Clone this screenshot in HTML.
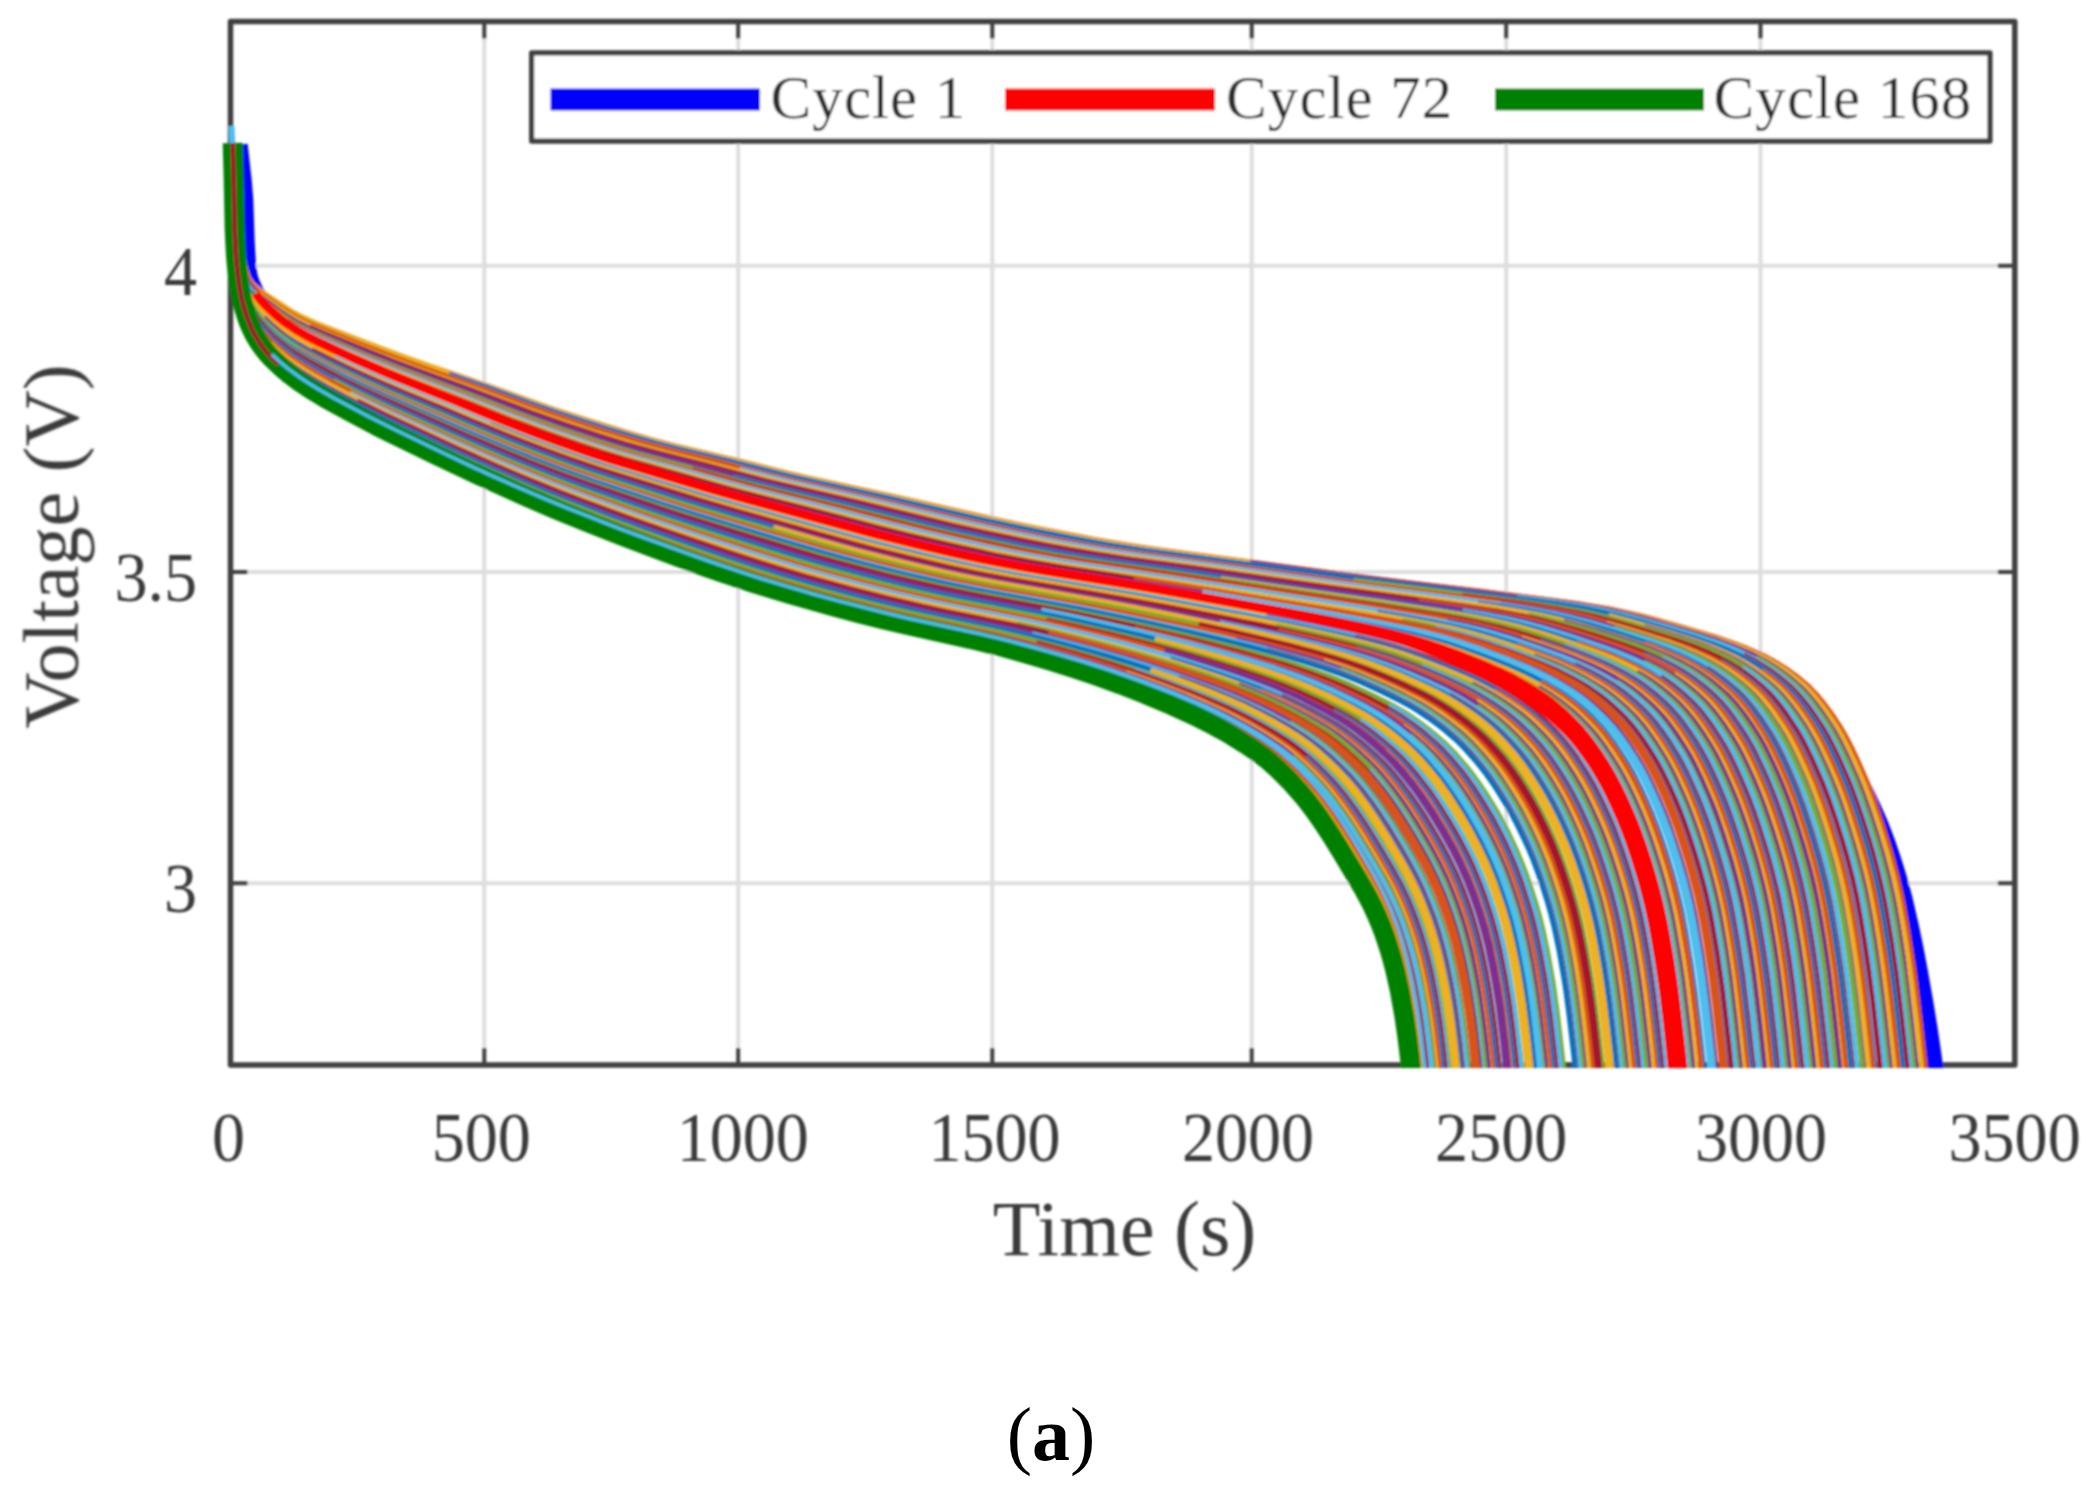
<!DOCTYPE html>
<html lang="en"><head><meta charset="utf-8"><title>Discharge voltage curves</title>
<style>html,body{margin:0;padding:0;background:#fff}svg{display:block}text{font-family:"Liberation Serif","Times New Roman",serif}</style></head><body>
<svg width="2096" height="1494" viewBox="0 0 2096 1494">
<defs><filter id="soft" x="0" y="0" width="2096" height="1494" filterUnits="userSpaceOnUse"><feGaussianBlur stdDeviation="1.1"/></filter><clipPath id="plot"><rect x="220.5" y="21.5" width="1794.3" height="1046.5"/></clipPath></defs>
<rect width="2096" height="1494" fill="#fff"/>
<g filter="url(#soft)">
<path d="M484.3,21.5V1065.0M738.2,21.5V1065.0M992.3,21.5V1065.0M1251.7,21.5V1065.0M1506.2,21.5V1065.0M1760.5,21.5V1065.0M230.5,265.8H2014.8M230.5,572.1H2014.8M230.5,883.2H2014.8" stroke="#dedede" stroke-width="4" fill="none"/>
<rect x="230.5" y="21.5" width="1784.3" height="1043.5" fill="none" stroke="#3f3f3f" stroke-width="5.5" stroke-linejoin="round"/>
<path d="M484.3,1065.0v-17.0M484.3,21.5v17.0M738.2,1065.0v-17.0M738.2,21.5v17.0M992.3,1065.0v-17.0M992.3,21.5v17.0M1251.7,1065.0v-17.0M1251.7,21.5v17.0M1506.2,1065.0v-17.0M1506.2,21.5v17.0M1760.5,1065.0v-17.0M1760.5,21.5v17.0M230.5,265.8h17.0M2014.8,265.8h-17.0M230.5,572.1h17.0M2014.8,572.1h-17.0M230.5,883.2h17.0M2014.8,883.2h-17.0" stroke="#3f3f3f" stroke-width="4" fill="none"/>
<g clip-path="url(#plot)" fill="none" stroke-width="5" stroke-linejoin="round">

<path d="M231.5,126L232.5,150" stroke="#4DBEEE" stroke-width="6"/>
<path d="M237.7,144.8L241.9,182.4L243.3,200L244.7,241.3L246.1,267L247.5,275.4L248.9,280.8L250.3,284.4L253.1,290.5L254.5,293.1L255.9,295.4L258.7,299.2L262.9,303.9L268.5,309.4L274.1,314.2L281.1,319.5L288.1,324.1L295.1,328.3L304.9,333.6L313.3,337.9L328.5,344.9L340.9,350.1L353.4,355L415.5,377.7L427.9,382L477.6,398.8L527.3,416.1L552.2,424.5L601.9,440.2L626.8,447.6L651.6,454.7L676.5,461.3L701.3,467.5L763.5,482.2L838,498.8L937.5,520.2L987.2,530.5L1024.4,537.6L1074.2,546.8L1148.7,559.8L1186,565.9L1223.3,571.8L1260.6,577.2L1310.3,583.9L1360,590L1455.3,601.4L1554.8,613.7L1581.3,617.2L1607.9,621.4L1627.8,625.3L1647.7,629.8L1674.2,636.6L1700.7,644.1L1720.6,650.3L1733.9,655L1747.2,660.4L1753.8,663.4L1760.4,666.8L1767.1,670.5L1773.7,674.8L1780.3,679.5L1787,684.6L1793.6,690L1800.2,696L1806.9,702.8L1813.5,710.5L1821.8,721.1L1830.1,732.6L1834.3,738.9L1840.5,749.1L1846.7,760.2L1855,775.8L1865.4,796.1L1871.6,809.2L1877.9,823.5L1882,834L1886.2,845.1L1890.3,857.2L1894.5,870.2L1898.6,884.3L1902.8,899.9L1909,927L1913.2,947.1L1917.3,968.5L1923.5,1003.5L1927.7,1029.4L1931.9,1058L1933.9,1073.8L1936,1091.8" stroke="#0000ff" stroke-width="20"/>
<path d="M233.5,143L234.9,164.6L237.7,200.3L241.9,244.6L243.2,257.3L244.6,265.1L246,270.8L247.4,275.3L248.8,278.7L250.2,281.1L251.6,283L253,284.6L255.8,287.2L260,290.6L264.1,293.6L290.6,310.8L296.2,314L301.7,316.9L315.7,323.2L328,328.1L377.5,347.1L402.3,356.3L427,365L488.8,386.2L550.7,408.4L587.8,420.5L624.9,432L649.6,439.2L674.4,445.7L736.2,460.3L785.7,472.6L810.4,478.4L897,497.1L995.9,519.6L1033,527.4L1070.1,534.8L1094.9,539.5L1132,545.8L1156.7,549.5L1379.3,578.9L1416.4,583.5L1482.5,591.3L1555.1,600.4L1581.5,604.1L1607.9,608.5L1627.7,612.6L1640.9,615.8L1654.1,619.2L1680.5,626.6L1713.5,636.4L1733.3,643.1L1746.5,648.2L1759.7,653.9L1766.3,657.1L1772.9,660.7L1779.5,664.6L1786.1,668.8L1792.8,673.5L1799.4,678.6L1806,684.1L1810.1,687.9L1816.3,694.4L1822.5,701.8L1828.7,709.9L1834.9,718.8L1841.1,728.4L1845.2,735.5L1851.4,747.4L1857.6,760.4L1863.8,774.4L1868,784.4L1874.2,800.8L1882.4,825.3L1890.7,852.4L1896.9,876L1901,894.4L1903.1,904.7L1907.2,927.9L1913.4,967.8L1915.5,983.3L1919.6,1017.2L1927.9,1090.1" stroke="#D95319"/>
<path d="M233.5,143L234.9,164.6L237.7,200.3L241.8,244.7L243.2,257.3L244.6,265.1L246,270.8L247.4,275.4L248.8,278.8L250.2,281.1L251.6,283L252.9,284.6L255.7,287.2L259.9,290.6L264.1,293.7L290.5,310.8L296,314.1L301.6,316.9L315.5,323.2L327.8,328.2L377.2,347.2L401.9,356.4L426.5,365L488.2,386.2L549.9,408.4L587,420.6L624,432.1L648.7,439.2L673.3,445.7L735,460.3L784.4,472.6L809.1,478.4L895.5,497.1L994.2,519.7L1031.2,527.4L1068.2,534.9L1092.9,539.5L1129.9,545.9L1154.6,549.6L1376.7,578.9L1413.8,583.6L1479.6,591.4L1552.1,600.5L1578.4,604.2L1604.8,608.6L1624.5,612.7L1637.7,615.8L1650.9,619.3L1677.2,626.7L1710.2,636.5L1729.9,643.2L1743.1,648.2L1756.3,654L1762.9,657.2L1769.4,660.7L1776,664.6L1782.6,668.9L1789.2,673.6L1795.8,678.7L1802.4,684.2L1806.5,688L1812.7,694.5L1818.9,701.9L1825.1,710L1831.2,718.9L1837.4,728.5L1841.5,735.6L1847.7,747.5L1853.9,760.5L1860.1,774.5L1864.2,784.4L1870.4,800.9L1878.7,825.4L1886.9,852.4L1893.1,876L1897.2,894.4L1899.3,904.8L1903.4,927.9L1909.6,967.8L1911.7,983.3L1915.8,1017.2L1924,1090.1" stroke="#EDB120"/>
<path d="M1250.3,562.6L1336.4,574.2L1385.6,580.6L1475.9,591.5L1554.7,601.5L1574.4,604.3L1587.5,606.4L1600.6,608.7L1613.8,611.3L1626.9,614.3L1640,617.6L1653.2,621.2L1672.9,626.8L1705.7,636.7L1718.8,641L1732,645.8L1745.1,651.2L1751.7,654.1L1758.2,657.4L1764.8,660.9L1771.4,664.8L1777.9,669.1L1784.5,673.7L1791.1,678.8L1797.6,684.4L1803.8,690.2L1807.9,694.7L1814.1,702L1820.3,710.2L1826.4,719.1L1832.6,728.6L1836.7,735.8L1840.8,743.5L1847,756.2L1857.3,779.5L1861.4,789.9L1865.5,801L1869.6,812.9L1875.8,832L1881.9,852.5L1888.1,876.1L1892.2,894.5L1894.3,904.9L1898.4,928L1902.5,953.8L1906.6,983.3L1910.7,1017.2L1918.9,1090.1" stroke="#7E2F8E"/>
<path d="M1755.8,657.6L1762.4,661.1L1768.9,665L1775.5,669.3L1782,674L1788.6,679.1L1795.1,684.6L1801.3,690.5L1807.5,697.2L1813.6,704.9L1819.8,713.3L1828,725.5L1832.1,732.3L1836.2,739.8L1842.3,752.1L1848.5,765.4L1854.7,779.7L1860.8,795.5L1869,819.3L1875.2,838.7L1879.3,852.7L1885.4,876.2L1889.6,894.6L1891.6,905L1895.7,928L1901.9,967.9L1903.9,983.4L1908,1017.3L1916.2,1090.2" stroke="#77AC30"/>
<path d="M1516.9,597.5L1549.6,601.8L1575.8,605.6L1595.4,609L1615,613.2L1628.1,616.3L1641.2,619.8L1667.4,627.2L1700.1,637.1L1719.7,643.7L1732.8,648.8L1739.3,651.6L1752.4,657.8L1759,661.4L1765.5,665.3L1772,669.5L1778.6,674.2L1785.1,679.3L1793.7,686.7L1799.9,692.9L1804,697.5L1808.1,702.5L1812.2,707.9L1818.3,716.5L1824.4,725.8L1828.5,732.6L1832.6,740L1836.7,748.1L1844.9,765.7L1853.1,785L1857.2,795.7L1861.3,807.2L1865.4,819.5L1871.5,838.9L1877.7,860.3L1881.8,876.4L1883.8,885.2L1887.9,905.1L1892,928.1L1896.1,954L1898.2,968L1902.3,1000L1912.5,1090.2" stroke="#4DBEEE"/>
<path d="M1743.4,654.9L1750,658.1L1756.5,661.6L1763,665.6L1769.6,669.8L1776.1,674.5L1782.6,679.6L1791.2,687L1797.3,693.2L1803.5,700.3L1809.6,708.2L1815.7,716.8L1821.9,726.1L1828,736.5L1834.1,748.3L1840.3,761.4L1848.5,780.2L1852.5,790.5L1856.6,801.6L1862.8,819.7L1868.9,839.1L1873,853L1879.1,876.5L1883.2,894.9L1885.3,905.2L1887.3,916.4L1891.4,940.8L1895.5,968.1L1897.5,983.5L1901.6,1017.3L1909.8,1090.2" stroke="#A2142F"/>
<path d="M448.8,374L485.4,386.7L534.2,404.6L558.7,413L583.1,421.1L607.5,428.8L631.9,436.2L656.3,443.1L680.7,449.3L729.5,460.9L790.5,476.1L815,481.7L888.2,497.7L985.8,520.3L1034.6,530.5L1071.3,537.8L1107.9,544.5L1144.5,550.2L1364.2,579.6L1400.8,584.3L1465.9,592.1L1531.1,600.4L1557.1,604.1L1583.2,608.3L1602.7,612.2L1622.3,616.8L1641.8,622L1674.4,631.6L1693.9,637.6L1713.5,644.3L1726.5,649.4L1739.5,655.2L1746.1,658.4L1752.6,662L1759.1,665.9L1765.6,670.2L1772.1,674.8L1778.6,679.9L1787.2,687.3L1793.3,693.5L1799.4,700.6L1805.5,708.5L1811.7,717.1L1817.8,726.4L1823.9,736.8L1830,748.6L1836.1,761.6L1844.3,780.4L1848.4,790.7L1852.4,801.9L1858.6,819.9L1864.7,839.3L1868.8,853.2L1874.9,876.7L1879,895L1881,905.4L1883,916.5L1887.1,941L1891.2,968.2L1893.2,983.6L1897.3,1017.4L1905.5,1090.2" stroke="#0072BD"/>
<path d="M1761.6,670.5L1768.1,675.2L1774.6,680.3L1783.1,687.7L1789.2,693.9L1795.3,701L1801.4,708.9L1807.5,717.5L1813.6,726.7L1817.7,733.5L1823.8,744.9L1827.8,753.2L1833.9,766.5L1840,780.7L1844.1,791L1848.2,802.1L1852.2,814L1858.3,833L1862.4,846.4L1868.5,868.6L1872.6,885.7L1874.6,895.2L1878.7,916.7L1884.8,954.3L1888.9,983.7L1892.9,1017.4L1901.1,1090.2" stroke="#D95319"/>
<path d="M1608.6,615.7L1628,620.8L1647.5,626.3L1673.4,634.1L1692.9,640.3L1705.8,644.9L1718.8,650L1731.7,655.8L1738.2,659.1L1744.7,662.6L1751.2,666.6L1757.7,670.9L1764.1,675.6L1770.6,680.7L1777.1,686.2L1781.2,690L1787.2,696.5L1795.4,706.5L1803.5,717.9L1811.6,730.4L1817.7,741.3L1825.8,757.9L1833.9,776.2L1840,791.3L1844.1,802.4L1848.1,814.2L1856.2,839.8L1862.3,861.1L1866.4,877.1L1870.4,895.4L1874.5,916.8L1878.5,941.2L1882.6,968.4L1884.6,983.7L1888.7,1017.5L1896.8,1090.2" stroke="#EDB120"/>
<path d="M1644,626.6L1682.8,638.5L1695.7,642.9L1708.6,647.7L1721.6,653.2L1728,656.2L1734.5,659.5L1741,663L1747.4,667L1753.9,671.3L1760.4,676L1766.8,681.1L1775.3,688.5L1781.4,694.7L1789.5,704.3L1797.6,715.3L1805.7,727.5L1811.7,737.9L1817.8,749.7L1825.9,767.2L1834,786.4L1840.1,802.7L1846.1,820.7L1854.2,846.9L1860.3,869.1L1864.4,886.1L1866.4,895.6L1870.4,917L1874.5,941.3L1878.5,968.5L1880.5,983.8L1884.6,1017.5L1892.7,1090.2" stroke="#7E2F8E"/>
<path d="M1353.7,580.4L1390,585.1L1461,593.9L1519.1,601.5L1538.4,604.2L1557.8,607.2L1577.2,610.6L1590.1,613.3L1609.4,618L1635.3,625.1L1674,636.8L1693.3,643.3L1706.3,648.1L1712.7,650.8L1725.6,656.6L1732.1,659.8L1738.5,663.4L1745,667.4L1751.4,671.7L1757.9,676.4L1764.3,681.5L1772.8,688.9L1776.9,692.9L1782.9,699.7L1787,704.7L1793,712.9L1799.1,721.7L1805.2,731.2L1809.2,738.3L1813.2,746L1817.3,754.3L1823.3,767.6L1829.4,781.7L1833.4,792L1837.5,803L1841.5,814.8L1847.6,833.8L1851.6,847.1L1857.7,869.3L1861.7,886.3L1865.8,906.1L1867.8,917.2L1871.8,941.5L1875.9,968.6L1879.9,1000.3L1890,1090.2" stroke="#77AC30"/>
<path d="M1742.3,667.8L1748.7,672.1L1755.2,676.8L1761.6,681.9L1768.1,687.5L1772.1,691.3L1778.2,697.8L1784.2,705.2L1790.3,713.3L1796.3,722.1L1802.4,731.7L1806.4,738.7L1810.4,746.4L1816.5,759L1826.6,782.1L1830.6,792.3L1836.6,809.2L1840.7,821.3L1846.7,840.6L1852.8,861.8L1858.8,886.6L1860.8,896L1864.9,917.4L1870.9,954.8L1875,984L1879,1017.6L1887.1,1090.2" stroke="#4DBEEE"/>
<path d="M1462,595.3L1513.4,602.1L1532.7,604.8L1558.4,608.9L1577.7,612.6L1597,617L1616.2,622.1L1641.9,629.6L1674.1,639.6L1693.4,646.4L1706.2,651.6L1719.1,657.4L1725.5,660.7L1731.9,664.3L1738.3,668.2L1744.8,672.5L1751.2,677.3L1757.6,682.4L1764,688L1768.1,691.8L1772.1,696L1776.1,700.6L1780.1,705.6L1786.2,713.8L1796.2,728.8L1800.3,735.6L1804.3,743L1812.3,759.4L1822.4,782.5L1828.4,798.1L1836.5,821.7L1842.5,840.9L1846.5,854.7L1852.6,878.1L1856.6,896.2L1860.6,917.6L1864.6,941.8L1868.6,968.8L1872.7,1000.5L1878.7,1053.2L1882.7,1090.2" stroke="#A2142F"/>
<path d="M1720.6,661.1L1727,664.7L1733.4,668.7L1739.8,673L1746.2,677.7L1752.7,682.9L1759.1,688.4L1765.1,694.3L1771.1,701.1L1777.1,708.7L1783.1,717.1L1791.1,729.3L1795.2,736L1799.2,743.4L1805.2,755.6L1811.2,768.8L1817.2,782.9L1823.2,798.5L1831.2,822L1837.3,841.2L1841.3,855L1847.3,878.3L1851.3,896.5L1853.3,906.7L1855.3,917.8L1859.3,942L1863.3,969L1865.3,984.2L1871.3,1035.4L1877.4,1090.2" stroke="#0072BD"/>
<path d="M233.4,143L236.1,185.2L237.5,201.9L241.5,245.8L242.9,258.3L244.2,266L245.6,271.7L246.9,276.2L248.3,279.6L249.6,282.1L252.3,285.6L257.7,290.7L260.4,292.9L264.5,295.9L282,308L290.1,313.2L299.6,318.6L313.1,324.9L325,329.9L361,344.2L397,358.2L420.9,366.9L480.9,388.1L540.8,410.2L576.7,422.4L612.7,433.9L636.7,441L648.7,444.4L672.6,450.6L720.6,462.3L768.5,474.6L792.5,480.4L876.4,499.2L972.3,521.8L1020.2,532.1L1056.2,539.4L1080.2,543.9L1104.1,548.1L1140.1,553.5L1212,563.2L1355.8,583L1443.8,594.2L1507.8,602.7L1527,605.5L1546.1,608.5L1558.9,610.8L1571.7,613.3L1590.9,617.7L1610.1,622.9L1635.7,630.4L1667.7,640.4L1686.9,647.3L1699.7,652.5L1712.5,658.3L1718.9,661.6L1725.3,665.2L1731.7,669.2L1738.1,673.5L1744.5,678.2L1750.9,683.4L1757.3,688.9L1761.3,692.8L1767.3,699.3L1773.3,706.6L1779.3,714.7L1785.3,723.6L1791.3,733.1L1795.3,740.1L1801.3,751.8L1807.3,764.7L1813.3,778.5L1817.4,788.3L1823.4,804.5L1831.4,828.6L1839.4,855.3L1845.4,878.6L1849.4,896.7L1851.4,907L1857.4,942.1L1861.4,969.1L1863.4,984.3L1869.4,1035.4L1875.4,1090.2" stroke="#D95319"/>
<path d="M1606.5,623.3L1625.6,628.9L1657.5,638.8L1670.3,643L1683,647.7L1695.8,652.9L1708.6,658.8L1714.9,662.1L1721.3,665.7L1727.7,669.7L1734.1,674L1740.5,678.7L1746.8,683.9L1755.2,691.3L1761.2,697.5L1767.2,704.6L1775.2,715.3L1783.2,727.1L1789.2,737L1795.2,748.3L1803.2,765.2L1811.2,783.7L1817.1,799.3L1823.1,816.6L1831.1,841.9L1837.1,863L1841.1,878.9L1845.1,897L1849.1,918.2L1853.1,942.3L1857.1,969.2L1859.1,984.4L1863.1,1017.9L1871.1,1090.2" stroke="#EDB120"/>
<path d="M1500.5,603.4L1526,607.2L1545.1,610.3L1564.1,614L1583.2,618.5L1608.7,625.5L1646.8,637.2L1665.9,643.5L1678.6,648.2L1685,650.7L1697.7,656.2L1710.4,662.6L1716.8,666.2L1723.2,670.2L1729.5,674.5L1735.9,679.3L1742.3,684.4L1750.6,691.9L1754.6,695.9L1758.6,700.3L1766.5,710.3L1770.5,715.8L1776.5,724.6L1780.5,730.8L1784.5,737.5L1788.4,744.9L1792.4,752.8L1796.4,761.2L1802.4,774.7L1806.4,784.2L1810.4,794.3L1816.3,811.1L1820.3,823.1L1826.3,842.3L1832.3,863.3L1838.2,887.8L1842.2,907.4L1846.2,930.1L1850.2,955.5L1852.2,969.4L1856.2,1000.8L1862.1,1053.3L1866.1,1090.3" stroke="#7E2F8E"/>
<path d="M1613.9,627.8L1652,639.6L1664.7,643.9L1677.4,648.6L1690.2,653.9L1702.9,659.8L1709.2,663.1L1715.6,666.7L1721.9,670.7L1728.3,675.1L1734.7,679.8L1741,685L1749.4,692.4L1755.3,698.6L1763.3,708.2L1771.2,719.2L1779.2,731.3L1785.2,741.7L1791.1,753.3L1799.1,770.6L1807.1,789.6L1813,805.7L1819,823.5L1827,849.3L1832.9,871.3L1836.9,888.1L1838.9,897.5L1842.9,918.7L1846.9,942.7L1850.8,969.5L1852.8,984.7L1856.8,1018L1864.8,1090.3" stroke="#77AC30"/>
<path d="M739.6,469.4L763.3,475.5L787.1,481.4L870.2,500.2L965.1,522.8L1000.7,530.6L1036.3,538L1060.1,542.7L1083.8,547L1107.6,551L1143.2,556.2L1202.5,564.2L1345,584.2L1432.1,595.5L1495.4,604.1L1527.1,608.9L1552.5,613.5L1571.5,617.8L1590.5,622.7L1615.8,630.1L1647.5,640.1L1666.5,646.7L1679.2,651.7L1691.8,657.2L1704.5,663.6L1710.9,667.3L1717.2,671.2L1723.5,675.6L1729.9,680.3L1736.2,685.5L1742.5,691.1L1748.5,697L1754.4,703.8L1760.4,711.4L1766.3,719.8L1774.3,731.9L1778.2,738.6L1782.2,745.9L1788.2,758L1794.1,771.1L1800.1,785.1L1806,800.6L1813.9,823.9L1819.9,843L1823.9,856.6L1829.8,879.8L1833.8,897.8L1835.8,908L1841.7,942.9L1845.7,969.7L1847.7,984.8L1853.6,1035.6L1859.6,1090.3" stroke="#4DBEEE"/>
<path d="M1706.7,667.8L1713,671.8L1719.3,676.2L1725.6,680.9L1731.9,686.1L1738.3,691.7L1742.2,695.5L1748.1,702L1754.1,709.4L1760,717.5L1765.9,726.3L1771.9,735.7L1775.8,742.7L1781.8,754.4L1787.7,767.1L1793.6,780.8L1797.6,790.5L1803.5,806.6L1811.4,830.5L1819.3,857L1825.3,880.1L1829.2,898.1L1831.2,908.2L1837.1,943.1L1841.1,969.8L1843.1,984.9L1849,1035.6L1854.9,1090.3" stroke="#A2142F"/>
<path d="M1477.8,603.1L1503.1,606.8L1528.3,610.8L1547.2,614.4L1566.2,618.6L1578.8,621.9L1591.4,625.4L1616.7,633L1648.2,643.2L1667.2,650.1L1679.8,655.4L1686.1,658.3L1698.7,664.7L1705,668.4L1711.3,672.4L1717.6,676.7L1724,681.5L1730.3,686.7L1738.6,694.1L1744.5,700.4L1752.4,710L1756.3,715.3L1762.3,723.9L1768.2,733L1772.1,739.7L1776.1,747L1780,754.9L1787.9,772.1L1795.8,791L1799.8,801.5L1803.7,812.7L1807.7,824.7L1813.6,843.7L1819.6,864.6L1825.5,889L1829.4,908.5L1833.4,931L1837.3,956.2L1839.3,970L1843.3,1001.2L1849.2,1053.4L1853.1,1090.3" stroke="#0072BD"/>
<path d="M1644.3,643.7L1656.9,648.2L1669.5,653.2L1682,658.8L1694.6,665.3L1700.9,668.9L1707.2,672.9L1713.5,677.3L1719.8,682.1L1726.1,687.3L1734.4,694.8L1740.3,701L1746.2,708L1754.1,718.7L1761.9,730.5L1767.9,740.3L1773.8,751.5L1779.7,763.8L1785.6,777.2L1791.5,791.5L1797.4,807.5L1803.3,825.1L1809.2,844.1L1815.1,865L1819.1,880.7L1823,898.7L1825,908.8L1828.9,931.2L1834.8,970.1L1836.8,985.2L1840.8,1018.3L1848.6,1090.3" stroke="#D95319"/>
<path d="M257.2,291.8L259.9,294.1L263.8,297.2L283.7,311.3L293,317.2L300.9,321.5L311.5,326.5L323.2,331.5L358.5,346L382,355.4L417.3,368.6L476.1,389.8L523.1,407.6L534.9,411.9L558.4,420.1L593.7,431.8L617.2,439.2L640.7,446.1L664.2,452.4L711.2,464.2L770,479.5L793.5,485.1L864.1,501.3L946.4,521.2L981.6,529.1L1016.9,536.7L1040.4,541.5L1063.9,546L1099.2,552.1L1134.5,557.4L1205,567L1334.4,585.4L1420.6,596.9L1483.4,605.7L1514.8,610.6L1539.9,615.3L1558.7,619.5L1577.5,624.5L1596.3,630.1L1627.7,640L1646.5,646.4L1659.1,651.2L1671.6,656.5L1684.2,662.5L1690.5,665.8L1696.7,669.5L1703,673.5L1709.3,677.9L1715.6,682.7L1721.8,687.9L1730.1,695.4L1736,701.6L1741.9,708.7L1747.8,716.5L1753.7,725.1L1759.6,734.2L1765.4,744.5L1771.3,756L1777.2,768.7L1785.1,787.1L1789,797.1L1793,808L1798.8,825.6L1804.7,844.5L1808.7,858.1L1814.6,881.1L1818.5,899L1820.5,909.1L1826.3,943.7L1830.3,970.3L1832.2,985.3L1838.1,1035.8L1844,1090.3" stroke="#EDB120"/>
<path d="M1563.6,621.6L1582.4,626.8L1601.2,632.5L1626.3,640.5L1645.1,646.9L1657.6,651.7L1670.2,657.1L1682.7,663.1L1689,666.4L1695.3,670.1L1701.5,674.1L1707.8,678.5L1714.1,683.3L1720.3,688.5L1726.6,694.1L1730.5,698L1736.4,704.5L1744.3,714.5L1752.1,725.7L1760,738.1L1765.9,748.8L1773.7,765L1781.6,782.9L1787.4,797.6L1791.4,808.4L1795.3,820L1803.1,844.9L1809,865.7L1813,881.4L1816.9,899.3L1820.8,920.2L1824.7,943.9L1828.7,970.5L1830.6,985.5L1834.5,1018.4L1842.4,1090.3" stroke="#7E2F8E"/>
<path d="M1528.5,614.9L1547.2,619L1566,623.8L1591,631L1616,639L1634.8,645.2L1653.5,652.3L1666,657.6L1678.5,663.7L1684.8,667L1691,670.7L1697.3,674.7L1703.5,679.1L1709.8,683.9L1716,689.1L1722.3,694.8L1728.1,700.7L1736,709.9L1741.8,717.8L1749.7,729.3L1753.6,735.5L1757.5,742.1L1761.4,749.4L1765.3,757.2L1773.2,774.3L1781,793L1786.8,808.9L1794.7,832.6L1800.5,852L1806.4,873.7L1810.3,890.3L1814.2,909.6L1818.2,932L1822.1,957L1824,970.6L1827.9,1001.6L1833.8,1053.5L1837.7,1090.3" stroke="#77AC30"/>
<path d="M1662.2,658.2L1674.7,664.3L1680.9,667.6L1687.2,671.3L1693.4,675.4L1699.6,679.8L1705.9,684.6L1712.1,689.8L1718.3,695.4L1722.2,699.3L1728.1,705.8L1734,713.1L1739.8,721.2L1747.6,733L1753.5,742.7L1759.3,753.8L1765.2,766.1L1771,779.4L1776.9,793.6L1780.8,804L1786.7,820.9L1792.5,839.4L1796.4,852.4L1800.3,866.5L1804.2,882.1L1808.1,899.9L1810.1,909.9L1815.9,944.4L1819.8,970.8L1821.8,985.7L1827.6,1035.9L1833.5,1090.4" stroke="#4DBEEE"/>
<path d="M309.5,326.8L322.4,332.5L357.4,346.9L392.4,360.9L415.7,369.6L474,390.8L532.2,412.9L567.2,425L602.2,436.6L625.5,443.8L637.1,447.1L660.5,453.4L707.1,465.2L765.4,480.6L788.7,486.3L858.6,502.5L951.8,525.1L986.8,532.9L1021.8,540.3L1045.1,545L1068.4,549.3L1091.7,553.3L1126.7,558.6L1196.6,568.3L1324.8,586.8L1410.3,598.4L1466.3,606.5L1497.4,611.3L1522.3,615.9L1534.8,618.5L1553.4,623.1L1572.1,628.3L1597,636L1621.9,644.2L1634.3,648.6L1646.7,653.4L1653,656L1665.4,661.7L1677.8,668.2L1684.1,671.9L1690.3,676L1696.5,680.4L1702.7,685.2L1709,690.4L1715.2,696.1L1721,702L1726.9,708.8L1732.7,716.4L1740.5,727.6L1746.3,736.7L1752.2,746.9L1756.1,754.5L1761.9,766.7L1767.8,779.9L1773.6,794.1L1777.5,804.5L1783.3,821.4L1789.2,839.8L1793.1,852.8L1797,866.9L1800.9,882.5L1804.8,900.2L1806.7,910.2L1812.5,944.6L1816.4,971L1818.4,985.9L1824.2,1036L1830.1,1090.4" stroke="#A2142F"/>
<path d="M1644,654L1656.4,659.4L1662.6,662.3L1675,668.9L1681.3,672.6L1687.5,676.6L1693.7,681.1L1699.9,685.9L1706.1,691.1L1712.3,696.8L1716.2,700.6L1722,707.1L1729.8,717.1L1737.6,728.3L1745.3,740.6L1749.2,747.6L1755.1,759.1L1760.9,771.6L1766.7,785.1L1770.6,794.6L1776.4,810.5L1782.3,827.9L1788.1,846.6L1792,860.1L1795.9,874.8L1799.8,891.4L1801.7,900.6L1803.7,910.5L1807.5,932.7L1813.4,971.2L1815.3,986L1819.2,1018.7L1827,1090.4" stroke="#0072BD"/>
<path d="M1418.3,601L1461.7,607.4L1486.5,611.2L1511.3,615.6L1529.8,619.5L1548.4,624.1L1567,629.3L1591.8,637.1L1622.8,647.4L1641.4,654.6L1653.8,660L1666.2,666.1L1672.4,669.5L1678.6,673.2L1684.8,677.3L1691,681.7L1697.2,686.6L1703.4,691.8L1711.5,699.3L1715.4,703.4L1719.3,707.8L1723.2,712.6L1729,720.5L1734.8,729L1740.6,738.1L1744.5,744.7L1748.4,751.9L1756.1,767.9L1765.8,790.3L1769.7,800.3L1773.6,811L1781.4,834.5L1789.1,860.5L1795,883.2L1798.8,900.9L1802.7,921.6L1808.5,957.8L1810.5,971.3L1814.4,1002.1L1820.2,1053.6L1824.1,1090.4" stroke="#D95319"/>
<path d="M1674.6,673.9L1680.8,678L1687,682.4L1693.2,687.2L1699.4,692.5L1705.5,698.1L1709.4,702L1715.2,708.5L1721,715.9L1726.8,723.9L1732.6,732.6L1738.4,742L1742.3,748.9L1748.1,760.3L1753.9,772.8L1759.7,786.2L1763.6,795.8L1769.4,811.5L1773.3,822.9L1779.1,841.2L1782.9,854.1L1786.8,868.1L1792.6,892.1L1794.6,901.2L1798.4,921.9L1804.2,958L1808.1,986.3L1813.9,1036.1L1819.7,1090.4" stroke="#EDB120"/>
<path d="M233.3,143L235.9,188.3L237.2,205.3L241.1,248.2L242.4,260.3L243.7,267.9L245,273.5L246.3,278L247.7,281.5L249,284L251.6,287.7L254.2,290.5L258.1,294.4L262,297.7L265.9,300.7L278.9,310.3L286.7,315.7L291.9,318.9L297.1,321.9L310.1,328.4L321.7,333.5L356.3,348L391,361.9L414.1,370.7L471.9,391.9L529.7,413.9L564.3,426.1L599,437.6L622.1,444.8L645.2,451.4L703,466.4L760.8,481.8L783.9,487.4L853.2,503.7L945.7,526.4L991.9,536.6L1026.6,543.9L1061.2,550.6L1084.4,554.6L1119,559.9L1188.4,569.6L1315.5,588.2L1412.6,601.9L1474.3,611.2L1492.8,614.3L1511.3,617.8L1529.8,621.9L1542.1,625.1L1554.5,628.6L1579.1,636.2L1610,646.4L1628.5,653.3L1640.8,658.4L1653.2,664.2L1665.5,670.8L1671.7,674.5L1677.8,678.6L1684,683.1L1690.2,687.9L1696.3,693.2L1702.5,698.8L1708.3,704.8L1714.1,711.6L1719.9,719.2L1725.7,727.5L1733.4,739.4L1737.3,746L1741.1,753.2L1746.9,765L1752.7,777.8L1758.5,791.5L1764.3,806.6L1772,829.3L1777.8,848L1781.7,861.4L1787.5,884L1791.3,901.6L1793.3,911.5L1799,945.6L1802.9,971.7L1804.8,986.5L1810.6,1036.2L1816.4,1090.4" stroke="#7E2F8E"/>
<path d="M1643.5,661.9L1655.8,668L1662,671.5L1668.2,675.2L1674.3,679.3L1680.5,683.8L1686.6,688.6L1692.8,693.9L1698.9,699.6L1702.8,703.4L1708.5,710L1714.3,717.3L1720.1,725.3L1727.8,737.1L1733.6,746.7L1739.4,757.7L1745.1,769.8L1750.9,782.9L1756.7,796.9L1760.6,807.2L1766.3,823.9L1772.1,842.1L1776,855L1779.8,868.9L1783.7,884.4L1787.5,901.9L1789.4,911.8L1795.2,945.8L1799.1,971.9L1801,986.6L1806.8,1036.2L1812.6,1090.4" stroke="#77AC30"/>
<path d="M1462.5,611.1L1487.1,615.3L1505.5,618.8L1523.9,623L1542.4,627.9L1566.9,635.3L1597.6,645.5L1616,652.1L1628.3,657L1634.5,659.7L1646.7,665.5L1659,672.1L1665.2,675.9L1671.3,680L1677.4,684.5L1683.6,689.3L1689.7,694.6L1697.8,702.2L1701.6,706.2L1705.5,710.7L1713.2,720.6L1722.8,734.7L1726.6,740.8L1730.5,747.4L1734.3,754.6L1738.2,762.3L1742,770.5L1747.8,783.5L1751.6,792.7L1755.5,802.5L1761.2,818.7L1765.1,830.4L1770.8,848.9L1776.6,869.3L1782.4,893.2L1786.2,912.2L1790.1,934.1L1793.9,958.7L1795.8,972.1L1799.7,1002.6L1805.4,1053.7L1809.3,1090.4" stroke="#4DBEEE"/>
<path d="M1660.8,676.6L1666.9,680.7L1673.1,685.2L1679.2,690.1L1685.3,695.3L1691.4,701L1695.3,704.9L1701,711.4L1706.7,718.8L1712.5,726.8L1718.2,735.5L1724,744.8L1727.8,751.6L1733.6,763L1739.3,775.4L1745.1,788.7L1748.9,798.1L1754.7,813.7L1758.5,825L1764.2,843.1L1768.1,855.9L1771.9,869.8L1777.7,893.6L1779.6,902.6L1783.4,923.1L1789.2,958.9L1793,986.9L1798.7,1036.3L1804.5,1090.5" stroke="#A2142F"/>
<path d="M732.8,476.9L767.1,485.9L847.2,505L938.8,527.7L973.1,535.5L1007.4,542.9L1030.3,547.6L1053.2,551.9L1076.1,555.9L1110.4,561.2L1179.1,571L1316.4,591.4L1382.9,600.9L1437.8,609.2L1474.5,615.2L1492.8,618.7L1505,621.2L1523.4,625.6L1535.6,629L1547.8,632.6L1572.2,640.4L1596.7,648.8L1615,655.7L1627.2,661L1639.4,666.8L1651.6,673.5L1657.7,677.3L1663.9,681.4L1670,685.9L1676.1,690.8L1682.2,696.1L1688.3,701.8L1694,707.7L1699.8,714.5L1705.5,722.1L1711.2,730.4L1718.9,742.3L1722.7,748.8L1726.5,756L1732.3,767.7L1738,780.4L1743.7,793.9L1749.5,808.9L1757.1,831.4L1762.9,849.9L1766.7,863.1L1772.4,885.6L1776.2,903L1778.2,912.8L1783.9,946.6L1787.7,972.5L1789.6,987.1L1795.4,1036.4L1801.1,1090.5" stroke="#0072BD"/>
<path d="M1576.3,643.1L1594.6,649.4L1606.8,653.9L1619,658.9L1631.2,664.5L1643.4,670.7L1649.5,674.2L1655.6,678L1661.7,682.1L1667.8,686.6L1673.9,691.5L1680,696.8L1686.1,702.5L1691.8,708.5L1697.5,715.3L1705.2,725.5L1712.8,736.9L1716.6,743L1720.5,749.6L1726.2,760.5L1733.8,776.7L1741.5,794.5L1745.3,804.3L1751,820.4L1756.7,838L1762.5,856.8L1768.2,878.1L1772,894.3L1773.9,903.4L1777.7,923.7L1781.6,946.8L1785.4,972.7L1791.1,1019.4L1796.8,1071.5L1798.7,1090.5" stroke="#D95319"/>
<path d="M1220.7,578.6L1311.9,592.2L1384.1,602.7L1444.9,612.1L1469.3,616.3L1487.5,619.7L1505.8,623.7L1517.9,626.7L1530.1,630.1L1542.3,633.7L1560.5,639.6L1578.8,645.8L1590.9,650L1603.1,654.6L1615.3,659.6L1621.4,662.3L1633.5,668.2L1639.6,671.4L1645.7,674.9L1651.8,678.7L1657.8,682.8L1663.9,687.4L1670,692.3L1676.1,697.6L1682.2,703.3L1687.9,709.3L1691.7,713.7L1697.4,721L1703.1,729L1710.7,740.7L1714.6,747L1720.3,757.4L1724.1,765.1L1729.8,777.4L1735.5,790.6L1739.3,799.9L1743.1,810.1L1746.9,820.9L1750.7,832.5L1756.4,850.9L1762.2,871.1L1767.9,894.7L1771.7,913.5L1777.4,947.1L1781.2,972.9L1785,1003.1L1790.7,1053.8L1794.5,1090.5" stroke="#EDB120"/>
<path d="M1637.1,672.1L1643.2,675.6L1649.3,679.4L1655.3,683.6L1661.4,688.1L1667.5,693L1673.6,698.3L1681.5,705.9L1687.2,712.2L1692.9,719.3L1698.6,727.1L1704.3,735.5L1710,744.5L1715.7,754.5L1721.4,765.8L1727.1,778.1L1734.7,795.8L1738.5,805.5L1742.4,816L1748.1,833L1753.8,851.4L1757.6,864.5L1763.3,886.8L1767.1,904.1L1769,913.9L1774.7,947.4L1778.5,973.1L1780.4,987.6L1786.1,1036.6L1791.8,1090.5" stroke="#7E2F8E"/>
<path d="M252.5,290.5L258.8,297.1L265.2,302.4L281.9,315L288.2,319.3L293.4,322.5L301,326.7L308.7,330.5L320,335.6L354.1,350.2L376.8,359.7L399.5,368.6L467.5,394.2L524.3,416.2L558.3,428.3L592.4,439.9L615.1,447.1L637.8,453.8L694.5,468.8L739.9,481.3L773.9,490L842,506.4L932.8,529.1L978.2,539.4L1023.6,549L1057.6,555.4L1091.6,561L1171.1,572.5L1295.9,591.4L1391.3,605.5L1451.8,615.2L1470,618.4L1488.2,622.1L1500.3,624.8L1518.5,629.5L1536.6,634.9L1560.9,642.8L1585.1,651.3L1597.2,655.9L1609.3,660.9L1615.4,663.6L1627.5,669.6L1639.6,676.3L1645.6,680.2L1651.7,684.3L1657.8,688.9L1663.8,693.8L1669.9,699.1L1675.9,704.8L1681.6,710.8L1687.3,717.6L1693,725.2L1700.6,736.3L1706.3,745.3L1712,755.3L1717.6,766.5L1723.3,778.7L1729,791.9L1734.7,806.1L1738.5,816.6L1744.2,833.6L1749.9,851.9L1753.7,865L1759.4,887.2L1763.1,904.5L1765,914.2L1770.7,947.6L1774.5,973.3L1776.4,987.8L1782.1,1036.6L1787.8,1090.5" stroke="#77AC30"/>
<path d="M1564.1,645.5L1582.2,651.9L1594.3,656.5L1606.4,661.6L1618.5,667.2L1630.6,673.6L1636.6,677.1L1642.7,680.9L1648.7,685.1L1654.8,689.6L1660.8,694.5L1666.9,699.9L1672.9,705.6L1678.6,711.6L1684.3,718.4L1691.8,728.6L1699.4,740L1707,752.5L1712.6,763.3L1720.2,779.4L1727.8,797.1L1731.6,806.8L1737.2,822.7L1742.9,840.1L1748.6,858.8L1754.3,879.8L1758.1,895.9L1759.9,904.9L1763.7,925L1767.5,947.9L1771.3,973.5L1777,1019.8L1782.7,1071.5L1784.5,1090.5" stroke="#4DBEEE"/>
<path d="M692.2,469.5L737.4,482L760,487.9L839,507.1L918.1,527.1L940.7,532.4L974.5,540.1L1008.4,547.4L1031,551.9L1053.6,556.1L1087.5,561.7L1177.8,575L1302,593.9L1379.6,605.5L1445.9,616.2L1464,619.5L1482.1,623.2L1500.2,627.5L1518.2,632.4L1542.3,640L1566.5,648.2L1584.5,654.8L1596.6,659.7L1608.7,665L1614.7,667.9L1626.7,674.3L1632.8,677.8L1638.8,681.6L1644.8,685.8L1650.8,690.4L1656.9,695.3L1662.9,700.6L1668.9,706.4L1672.7,710.3L1678.4,716.8L1684,724.1L1689.7,732.1L1697.2,743.7L1701,750L1706.7,760.4L1712.3,771.9L1718,784.4L1723.6,797.7L1729.3,812.5L1736.9,834.7L1742.5,852.9L1746.3,865.9L1751.9,888.1L1755.7,905.3L1757.6,915L1763.3,948.2L1767,973.7L1768.9,988.1L1774.6,1036.7L1780.2,1090.6" stroke="#A2142F"/>
<path d="M1540,640.6L1558.1,646.8L1576.1,653.2L1588.2,657.8L1600.2,662.9L1612.2,668.6L1624.3,675L1630.3,678.5L1636.3,682.4L1642.3,686.6L1648.3,691.1L1654.3,696.1L1660.4,701.4L1668.3,709.1L1673.9,715.4L1681.4,724.9L1689,735.7L1696.5,747.6L1702.2,757.5L1709.7,772.6L1717.2,789.4L1722.9,803.1L1728.5,818.4L1734.2,835.2L1741.7,859.8L1747.4,880.7L1751.1,896.8L1753,905.7L1756.8,925.7L1760.6,948.5L1764.3,973.9L1770,1020L1775.6,1071.5L1777.5,1090.6" stroke="#0072BD"/>
<path d="M287.7,320.4L296.6,325.7L308,331.6L319.2,336.8L353,351.4L375.5,360.9L409.2,374.2L454.2,391.1L510.4,413.1L532.9,421.5L555.4,429.5L577.9,437.3L600.4,444.7L622.8,451.7L645.3,458.1L690.3,470.1L746.5,485.6L769,491.4L836.5,507.8L892.7,522.2L926.5,530.5L960.2,538.3L993.9,545.7L1016.4,550.4L1038.9,554.8L1061.4,558.8L1083.9,562.5L1173.9,575.7L1297.6,594.8L1374.8,606.4L1440.8,617.3L1458.9,620.6L1476.9,624.3L1494.9,628.6L1512.9,633.6L1530.9,639.3L1554.9,647.4L1572.9,653.9L1590.9,661L1602.9,666.4L1614.9,672.5L1626.9,679.3L1632.9,683.1L1638.9,687.3L1644.9,691.9L1650.9,696.9L1656.9,702.2L1662.9,708L1668.6,714L1674.2,720.8L1679.8,728.3L1687.4,739.4L1693,748.4L1698.6,758.3L1704.3,769.4L1709.9,781.5L1715.5,794.5L1721.2,808.7L1724.9,819L1730.6,835.8L1736.2,853.9L1740,866.9L1745.6,888.9L1749.4,906.1L1751.2,915.7L1756.9,948.7L1760.6,974.1L1762.5,988.5L1768.2,1036.9L1773.8,1090.6" stroke="#D95319"/>
<path d="M1521.4,637.9L1539.4,643.9L1563.3,652.3L1575.3,656.8L1587.2,661.7L1599.2,667.1L1611.2,673.2L1623.2,680L1629.1,683.9L1635.1,688.1L1641.1,692.7L1647.1,697.7L1653.1,703L1659.1,708.8L1664.7,714.8L1670.3,721.6L1677.8,731.8L1685.3,743.1L1692.8,755.6L1698.4,766.3L1705.9,782.3L1713.4,799.7L1719,814.4L1724.7,830.6L1732.2,854.4L1737.8,874.3L1741.5,889.4L1745.3,906.4L1749,926.4L1752.8,949L1756.5,974.3L1762.1,1020.2L1767.8,1071.6L1769.6,1090.6" stroke="#EDB120"/>
<path d="M1447.4,620.6L1465.4,624.2L1483.3,628.3L1501.2,633.1L1519.2,638.6L1543.1,646.6L1561,653L1572.9,657.5L1590.9,665L1602.8,670.8L1614.8,677.3L1620.7,680.8L1626.7,684.7L1632.7,688.9L1638.7,693.5L1644.6,698.5L1650.6,703.8L1656.6,709.6L1662.2,715.6L1669.7,724.9L1677.2,735.4L1686.5,750L1690.3,756.4L1694,763.4L1701.5,778.9L1710.8,800.4L1716.5,815L1723.9,836.9L1731.4,861.3L1737,882.1L1740.8,898L1744.5,916.4L1750.1,949.3L1753.9,974.5L1759.5,1020.3L1765.1,1071.6L1767,1090.6" stroke="#7E2F8E"/>
<path d="M1616.5,681.6L1622.4,685.5L1628.4,689.7L1634.3,694.3L1640.3,699.3L1646.2,704.7L1652.2,710.4L1657.8,716.5L1663.4,723.3L1670.8,733.5L1678.3,744.8L1683.9,753.9L1687.6,760.6L1693.2,771.7L1698.8,783.7L1704.4,796.6L1708.1,805.8L1713.7,820.9L1717.5,831.8L1723.1,849.4L1726.8,861.8L1730.5,875.3L1736.1,898.4L1738,907.3L1741.7,927.1L1747.3,961.8L1751,989L1756.6,1037L1760.4,1071.6L1762.2,1090.6" stroke="#77AC30"/>
<path d="M233.3,143L235.8,192.3L237,209.6L240.8,251.3L242,262.8L243.3,270.2L244.6,275.8L245.8,280.3L247.1,283.8L248.3,286.3L250.8,290.3L253.3,293.4L258.4,298.8L262.1,302.2L270.9,309.4L278.5,315.2L284.7,319.8L291,323.9L297.3,327.5L307.3,332.8L318.5,338L340.8,347.8L363.1,357.4L396.5,371.1L463.4,396.7L519.2,418.6L552.6,430.8L586.1,442.3L608.4,449.6L630.7,456.3L686.4,471.5L731,484L753.3,489.9L831.4,509.3L887.1,523.7L920.6,532L954,539.8L987.4,547.2L1009.7,551.9L1032,556.3L1054.3,560.3L1076.6,564L1177,579.1L1359.1,607.4L1424.6,618.4L1448.4,622.9L1466.3,626.7L1484.1,631L1496,634.3L1507.9,637.9L1531.7,645.8L1561.5,656.5L1579.3,663.8L1591.2,669.3L1603.1,675.4L1615,682.3L1621,686.2L1627,690.5L1632.9,695.1L1638.9,700.1L1644.8,705.5L1650.8,711.3L1656.3,717.3L1661.9,724.1L1669.4,734.3L1676.8,745.6L1682.4,754.7L1686.2,761.4L1691.7,772.4L1697.3,784.5L1702.9,797.3L1706.6,806.4L1712.2,821.5L1716,832.4L1721.5,849.9L1725.3,862.4L1729,875.8L1734.6,898.9L1736.5,907.7L1740.2,927.4L1745.8,962L1749.5,989.2L1755.1,1037.1L1758.8,1071.6L1760.7,1090.7" stroke="#4DBEEE"/>
<path d="M1575,664.5L1586.9,670L1598.8,676.2L1610.6,683.1L1616.5,687L1622.5,691.3L1628.4,695.9L1634.3,700.9L1640.3,706.3L1646.2,712.1L1649.9,716L1655.5,722.6L1662.9,732.5L1670.4,743.5L1677.8,755.5L1681.5,762.2L1687.1,773.2L1692.6,785.2L1698.2,798L1701.9,807.1L1707.5,822.1L1713.1,838.7L1718.6,856.6L1722.3,869.4L1726.1,883.5L1729.8,899.3L1731.6,908.1L1733.5,917.6L1737.2,938.7L1742.8,975.2L1748.3,1020.6L1753.9,1071.6L1755.8,1090.7" stroke="#A2142F"/>
<path d="M1377.3,612.4L1412.8,618.5L1436.5,622.9L1454.3,626.6L1472.1,630.7L1489.8,635.6L1513.5,643.1L1537.2,651.3L1560.9,660.2L1572.7,665.2L1578.7,667.9L1590.5,673.8L1602.3,680.3L1608.3,683.9L1614.2,687.8L1620.1,692.1L1626,696.7L1632,701.7L1637.9,707.2L1643.8,713L1647.5,716.9L1654.9,725.8L1658.6,730.7L1664.2,738.7L1669.8,747.2L1675.3,756.3L1679,763L1682.7,770.2L1686.4,777.9L1692,790.1L1699.4,807.8L1706.8,828.1L1710.5,839.3L1716.1,857.1L1721.7,876.8L1727.2,899.7L1730.9,918L1734.6,939L1738.3,962.5L1742.1,989.5L1745.8,1020.7L1751.3,1071.6L1753.2,1090.7" stroke="#0072BD"/>
<path d="M1516.5,645.7L1534.3,652L1552,658.6L1563.8,663.4L1575.6,668.6L1587.4,674.5L1599.3,681.1L1605.2,684.7L1611.1,688.6L1617,692.9L1622.9,697.5L1628.8,702.6L1634.7,708L1642.5,715.7L1648,722L1655.4,731.6L1662.8,742.3L1672.1,757.2L1677.6,767.4L1683.2,778.6L1690.6,795.1L1696.1,808.5L1701.7,823.4L1707.2,839.9L1714.6,864L1720.2,884.5L1723.9,900.2L1725.7,908.9L1729.4,928.5L1733.1,950.8L1736.8,975.6L1742.3,1020.8L1747.9,1071.6L1749.7,1090.7" stroke="#D95319"/>
<path d="M295.4,328L305.3,333.3L317.6,339.2L350.8,354L383.9,368L406,376.8L461.2,398L505.3,415.6L538.5,428L560.5,436L582.6,443.6L615.7,454.3L637.8,460.7L682,472.9L737.2,488.5L759.3,494.2L825.5,510.9L880.7,525.2L913.8,533.6L969.1,546.4L991.1,551.2L1013.2,555.7L1035.3,559.9L1068.4,565.6L1178.8,582.4L1348.2,609.4L1413,620.7L1430.7,624.1L1448.4,627.8L1466,632L1483.7,636.9L1501.4,642.4L1519.1,648.4L1542.7,657L1554.4,661.6L1566.2,666.7L1572.1,669.4L1583.9,675.3L1595.7,681.9L1601.6,685.5L1607.5,689.4L1613.4,693.7L1619.3,698.4L1625.2,703.4L1631.1,708.8L1636.9,714.7L1640.6,718.6L1646.2,725.2L1651.7,732.5L1657.2,740.4L1664.6,751.9L1670.2,761.3L1675.7,771.8L1681.2,783.4L1686.8,795.8L1692.3,809.2L1696,819L1701.5,834.9L1707.1,852.2L1710.7,864.5L1714.4,877.8L1718.1,892.6L1721.8,909.3L1723.7,918.7L1729.2,951L1732.9,975.9L1734.7,989.9L1740.3,1037.4L1744,1071.6L1745.8,1090.7" stroke="#EDB120"/>
<path d="M1534.1,655.5L1551.7,662.3L1563.5,667.4L1575.2,673L1587,679.3L1598.8,686.3L1604.7,690.2L1610.5,694.5L1616.4,699.2L1622.3,704.3L1628.2,709.7L1634.1,715.5L1637.7,719.5L1643.3,726L1648.8,733.3L1656.2,744L1663.5,755.7L1669,765.5L1674.6,776.4L1680.1,788.2L1687.5,805.3L1691.1,814.7L1696.7,830L1702.2,846.9L1707.7,865L1713.2,885.5L1716.9,901.1L1718.8,909.7L1722.4,929.2L1726.1,951.3L1729.8,976.1L1735.3,1021L1740.8,1071.6L1742.7,1090.7" stroke="#7E2F8E"/>
<path d="M1402.3,620.8L1425.8,625.3L1443.4,629L1461,633.2L1478.6,638.1L1496.2,643.7L1519.7,651.9L1543.1,660.7L1560.7,668.1L1572.5,673.8L1584.2,680L1596,687.1L1601.8,691.1L1607.7,695.4L1613.6,700.1L1619.4,705.1L1625.3,710.6L1631.2,716.4L1638.5,724.6L1645.9,734.2L1655.1,747.7L1660.6,756.6L1664.2,762.9L1671.6,777.2L1680.8,797.3L1684.5,806L1688.1,815.4L1693.6,830.7L1697.3,841.7L1702.8,859.4L1708.3,878.8L1713.9,901.5L1717.5,919.5L1721.2,940.3L1724.9,963.6L1728.6,990.3L1732.2,1021.1L1737.7,1071.6L1739.6,1090.7" stroke="#77AC30"/>
<path d="M1435.6,628.3L1453.2,632.4L1470.8,637.1L1488.4,642.5L1506,648.4L1529.4,656.9L1547,663.8L1558.7,668.9L1564.6,671.6L1576.3,677.6L1588,684.2L1593.9,687.9L1599.7,691.9L1605.6,696.2L1611.5,700.9L1617.3,706L1623.2,711.4L1629,717.3L1634.5,723.3L1641.9,732.6L1651,745.8L1660.2,760.5L1665.7,770.6L1673.1,785.7L1682.2,806.7L1687.7,821L1695.1,842.3L1702.4,866.1L1707.9,886.4L1711.6,902L1715.3,919.9L1720.8,951.9L1724.4,976.6L1729.9,1021.2L1735.4,1071.7L1737.3,1090.8" stroke="#4DBEEE"/>
<path d="M250.5,291.8L252.9,295L256.6,299.3L262.8,305.2L276.4,316.5L282.5,321.1L287.5,324.6L296.1,329.9L306,335.2L316.9,340.5L338.8,350.4L360.7,360.1L393.6,373.7L459.3,399.3L514.1,421.2L546.9,433.4L579.8,444.9L601.7,452.2L623.6,458.9L678.4,474.3L722.2,486.9L755,495.7L820.8,512.4L875.5,526.8L908.4,535.2L952.2,545.5L996,555.1L1028.9,561.5L1061.7,567.2L1182.2,585.9L1339.2,611.5L1403.5,623L1421.1,626.5L1438.6,630.2L1456.1,634.5L1473.7,639.4L1491.2,645L1508.8,651.2L1532.1,659.8L1543.8,664.5L1555.5,669.6L1561.4,672.4L1573.1,678.4L1584.8,685.1L1590.6,688.7L1596.5,692.7L1602.3,697L1608.1,701.7L1614,706.8L1619.8,712.3L1625.7,718.1L1629.3,722.1L1634.8,728.7L1640.3,736L1645.8,743.9L1653.1,755.3L1658.6,764.6L1664.1,775.1L1669.6,786.5L1675.1,798.8L1680.6,812L1684.2,821.7L1689.7,837.4L1695.2,854.5L1698.9,866.7L1702.5,879.8L1706.2,894.4L1709.9,911L1711.7,920.3L1717.2,952.3L1720.8,976.8L1722.7,990.7L1728.2,1037.6L1731.8,1071.7L1733.7,1090.8" stroke="#A2142F"/>
<path d="M1568.6,679.1L1580.3,685.9L1586.1,689.5L1591.9,693.5L1597.8,697.9L1603.6,702.6L1609.4,707.7L1615.2,713.2L1621.1,719L1624.7,723L1630.2,729.6L1635.7,736.8L1641.1,744.8L1648.4,756.2L1653.9,765.5L1659.4,775.9L1664.8,787.3L1670.3,799.6L1675.8,812.7L1679.4,822.4L1684.9,838L1690.4,855.1L1694,867.2L1697.7,880.4L1701.3,894.9L1705,911.5L1706.8,920.7L1712.3,952.6L1715.9,977L1717.7,990.9L1723.2,1037.7L1726.9,1071.7L1728.7,1090.8" stroke="#0072BD"/>
<path d="M1133.6,579.8L1199,590.3L1339.3,613.6L1385.8,622L1409,626.5L1432.3,631.5L1449.7,635.8L1467.2,640.8L1490.5,648.4L1519.5,659L1531.2,663.6L1542.8,668.5L1554.4,673.9L1560.2,676.8L1571.9,683.2L1577.7,686.7L1583.5,690.4L1589.3,694.4L1595.1,698.7L1601,703.5L1606.8,708.6L1612.6,714L1620.2,721.9L1625.7,728.2L1631.1,735.2L1636.6,742.9L1642.1,751.2L1647.5,760L1651.2,766.3L1656.6,776.7L1662.1,788.1L1667.6,800.3L1674.8,818.2L1678.5,828.1L1683.9,844.2L1689.4,861.7L1693,874.2L1698.5,895.4L1702.1,911.9L1704,921.1L1707.6,941.7L1713.1,977.3L1716.7,1005.9L1722.2,1054.4L1725.8,1090.8" stroke="#D95319" stroke-width="8.6"/>
<path d="M467.8,405.1L511.1,422.5L543.6,434.7L565.3,442.5L587,450L608.7,457L619.5,460.3L727.9,491.4L749.6,497.3L814.6,514L890.5,534.1L923,542L966.4,552L998.9,558.9L1020.5,563.2L1053.1,568.9L1172.3,587.6L1310.3,610.6L1333.5,614.6L1374,622.1L1397.1,626.5L1414.5,630.1L1431.8,634.1L1449.2,638.7L1466.5,643.9L1483.9,649.8L1507,658.3L1530.2,667.4L1541.7,672.6L1547.5,675.4L1559.1,681.5L1570.7,688.3L1576.4,692L1582.2,696.1L1588,700.4L1593.8,705.2L1599.6,710.3L1605.4,715.8L1613,723.7L1618.4,730L1623.8,737L1631.1,747.4L1638.3,758.8L1643.8,768L1649.2,778.4L1654.6,789.7L1660.1,801.9L1665.5,814.9L1669.1,824.4L1674.5,840L1680,856.9L1683.6,868.9L1687.2,881.9L1690.8,896.4L1694.5,912.8L1696.3,922L1701.7,953.5L1705.3,977.7L1707.1,991.4L1710.8,1021.7L1714.4,1054.4L1718,1090.8" stroke="#7E2F8E"/>
<path d="M1574.1,692.9L1579.9,696.9L1585.6,701.3L1591.4,706.1L1597.2,711.2L1603,716.7L1608.7,722.6L1614.2,728.7L1619.6,735.5L1626.8,745.6L1634,756.7L1639.5,765.7L1643.1,772.2L1648.5,782.9L1653.9,794.5L1659.3,806.9L1663,815.7L1668.4,830.1L1672,840.6L1677.4,857.5L1681,869.5L1684.7,882.5L1690.1,904.7L1691.9,913.2L1695.5,932.2L1700.9,965.5L1704.5,991.6L1708.2,1021.8L1711.8,1054.5L1715.4,1090.9" stroke="#77AC30"/>
<path d="M1202,593.9L1318.7,613.7L1382.2,625.4L1405.3,630.1L1422.6,634L1439.9,638.4L1457.2,643.4L1480.3,651.1L1509.1,661.9L1526.4,668.9L1537.9,674.2L1543.7,677L1555.3,683.1L1561,686.5L1572.6,693.7L1578.3,697.8L1584.1,702.2L1589.9,706.9L1595.6,712.1L1601.4,717.6L1607.2,723.5L1612.6,729.6L1616.2,734.1L1621.6,741.4L1627,749.2L1634.3,760.6L1639.7,769.8L1643.3,776.5L1646.9,783.7L1652.3,795.3L1657.7,807.6L1661.3,816.4L1668.6,836L1672.2,846.8L1677.6,864L1683,883L1688.4,905.2L1692,922.8L1697.5,954.1L1701.1,978.2L1704.7,1006.5L1710.1,1054.5L1713.7,1090.9" stroke="#4DBEEE" stroke-width="8.6"/>
<path d="M233.2,143L235.6,196.7L236.8,214.4L240.4,254.7L241.6,265.7L242.9,272.9L244.1,278.4L245.3,282.9L246.5,286.4L247.7,289L250.1,293.3L252.5,296.6L257.4,302.5L261,306.1L268.3,312.7L275.5,318.8L281.6,323.5L287.6,327.8L294.9,332.3L304.6,337.7L315.3,343.1L336.8,353.1L358.3,362.8L390.6,376.5L455.1,402.1L508.8,423.9L541.1,436.1L573.3,447.7L594.8,454.9L616.3,461.8L713,489.9L734.5,495.9L809.8,515.7L863.5,530.1L895.8,538.5L949.5,551.2L971,556L992.5,560.6L1014,564.8L1046.3,570.6L1164.5,589.4L1307.1,613.7L1330.1,617.9L1376,626.6L1398.9,631.4L1416.1,635.3L1433.3,639.7L1444.8,643L1456.3,646.6L1479.2,654.6L1502.2,663.4L1519.4,670.4L1530.9,675.7L1542.4,681.6L1548.1,684.8L1559.6,691.6L1565.3,695.4L1571,699.5L1576.8,703.9L1582.5,708.7L1588.3,713.9L1594,719.4L1603.3,729.3L1608.7,735.9L1614.1,743.2L1619.5,751.1L1626.7,762.4L1632.1,771.5L1635.7,778.3L1641,789.1L1646.4,800.9L1651.8,813.4L1657.2,827.3L1660.8,837.3L1666.2,853.6L1671.6,871.2L1675.2,884.1L1680.6,906.2L1682.4,914.6L1685.9,933.4L1691.3,966.3L1694.9,992.2L1698.5,1022.2L1702.1,1054.6L1705.7,1090.9" stroke="#0072BD"/>
<path d="M1540.3,682.4L1551.7,688.9L1557.4,692.5L1563.2,696.3L1568.9,700.3L1574.6,704.8L1580.4,709.6L1586.1,714.8L1591.8,720.3L1599.3,728.2L1604.7,734.6L1610.1,741.6L1617.3,752L1624.4,763.3L1629.8,772.4L1635.2,782.6L1640.6,793.8L1646,805.8L1651.3,818.6L1654.9,828L1660.3,843.3L1665.7,860L1669.3,871.8L1672.9,884.6L1676.4,898.9L1680,915L1681.8,924.1L1687.2,955.1L1690.8,978.9L1692.6,992.4L1696.2,1022.3L1699.8,1054.6L1703.3,1090.9" stroke="#D95319"/>
<path d="M1313,616.9L1353,624.5L1381.5,630.2L1404.4,635.3L1421.5,639.5L1438.6,644.4L1450,648L1461.4,651.9L1484.3,660.4L1507.1,669.5L1518.5,674.6L1524.2,677.3L1535.7,683.2L1547.1,689.8L1558.5,697.1L1564.2,701.2L1569.9,705.7L1575.6,710.5L1581.3,715.7L1587,721.3L1592.7,727.2L1599.9,735.5L1605.2,742.6L1610.6,750.2L1616,758.4L1621.3,767.1L1628.5,780L1635.6,794.6L1644.6,815L1648.1,824L1651.7,833.6L1658.8,854.9L1666,878.6L1671.4,899.4L1674.9,915.5L1678.5,934.2L1683.9,966.9L1687.4,992.6L1691,1022.4L1696.4,1071.8L1698.2,1091" stroke="#EDB120"/>
<path d="M1538.5,687.2L1549.9,694.2L1555.6,698L1561.3,702.1L1567,706.6L1572.7,711.4L1578.4,716.6L1584,722.2L1589.7,728.1L1593.3,732.1L1598.7,738.7L1604,746L1611.1,756.6L1618.3,768L1623.6,777.5L1629,788L1634.3,799.3L1639.7,811.5L1645,824.7L1648.6,834.3L1653.9,850L1659.3,867L1662.8,879.2L1668.2,899.9L1671.8,915.9L1673.5,924.9L1678.9,955.7L1682.5,979.4L1684.2,992.8L1687.8,1022.5L1691.4,1054.7L1694.9,1091" stroke="#7E2F8E"/>
<path d="M410.4,386.6L453,403.5L495.6,421L516.9,429.4L559.5,445.3L580.8,452.8L602.1,459.8L623.4,466.4L719.2,494.5L740.5,500.4L804.4,517.4L857.6,531.8L889.6,540.1L932.2,550.4L974.7,560L1006.7,566.6L1028,570.5L1049.3,574.1L1113.2,584.3L1166.4,593L1285.7,613.8L1314.1,619L1353.9,626.8L1376.6,631.5L1393.7,635.2L1410.8,639.4L1427.8,644L1444.9,649.4L1461.9,655.4L1479,661.8L1501.7,671L1513.1,676.1L1518.7,678.9L1530.1,684.8L1541.5,691.4L1547.2,695L1552.8,698.9L1558.5,703L1564.2,707.5L1569.9,712.3L1575.6,717.5L1581.3,723.1L1586.9,729.1L1592.3,735.2L1597.6,742L1604.7,752.1L1611.9,763.1L1619,775.1L1624.3,785.2L1629.7,796.3L1635,808.2L1640.3,820.9L1643.9,830.2L1649.2,845.3L1654.6,861.8L1658.1,873.5L1661.7,886.3L1665.2,900.4L1668.8,916.4L1670.6,925.3L1675.9,956L1679.5,979.7L1681.2,993L1684.8,1022.6L1688.4,1054.7L1691.9,1091" stroke="#77AC30"/>
<path d="M1550.8,699.7L1556.5,703.9L1562.1,708.3L1567.8,713.2L1573.5,718.4L1579.2,724L1584.8,730L1590.2,736.1L1595.5,743L1600.8,750.4L1606.2,758.4L1613.3,769.8L1616.8,776L1622.1,786.1L1627.5,797.1L1634.6,813.1L1638.1,821.7L1643.5,835.8L1647,846L1652.3,862.4L1655.9,874.1L1659.5,886.8L1664.8,908.6L1666.6,916.8L1670.1,935.3L1675.4,967.8L1679,993.2L1682.5,1022.7L1686.1,1054.7L1689.7,1091" stroke="#4DBEEE"/>
<path d="M1109.3,585.2L1172.9,595.8L1269.7,612.9L1303.7,619.1L1343.3,626.9L1371.6,632.7L1394.2,637.9L1416.8,643.8L1428.2,647.1L1439.5,650.8L1462.1,658.9L1490.4,670.2L1507.4,677.7L1518.7,683.4L1524.3,686.5L1535.7,693.1L1541.3,696.8L1547,700.6L1552.6,704.7L1558.3,709.2L1564,714.1L1569.6,719.3L1575.3,725L1582.7,732.9L1588,739.3L1593.3,746.3L1598.6,754L1605.7,765L1611,773.8L1614.6,780.2L1619.9,790.6L1625.2,801.8L1630.5,813.9L1634.1,822.4L1637.6,831.6L1641.2,841.5L1646.5,857.5L1653.6,880.9L1658.9,901.4L1662.4,917.3L1667.7,945.9L1673,980.2L1676.6,1007.7L1681.9,1054.8L1685.4,1091" stroke="#A2142F"/>
<path d="M233.1,143L235.5,198.8L236.7,216.7L237.9,231.1L240.3,256.3L241.5,267L242.7,274.1L243.9,279.6L245.1,284.1L246.3,287.6L247.5,290.3L249.8,294.6L253.4,299.7L257,304.2L261.8,309.1L267.7,314.7L274.9,320.9L280.8,325.6L286.8,330L292.8,333.8L302.3,339.4L314.1,345.4L345.9,360.5L377.6,374.5L398.8,383.4L451.8,404.6L504.7,426.4L536.5,438.5L568.3,450.1L589.5,457.4L610.6,464.3L706,492.7L727.2,498.7L801.3,518.6L854.2,533.1L886,541.4L939,554.2L981.3,563.6L1002.5,567.9L1034.3,573.7L1150.8,592.6L1182.6,598.1L1280,615.5L1308.3,620.7L1347.9,628.6L1370.5,633.3L1393.1,638.5L1415.7,644.4L1432.7,649.6L1455.3,657.5L1477.9,666.3L1494.9,673.3L1506.2,678.5L1511.8,681.2L1523.1,687.3L1528.8,690.5L1540.1,697.6L1545.7,701.5L1551.4,705.6L1557,710.1L1562.7,715L1568.3,720.3L1574,725.9L1581.4,733.9L1586.7,740.2L1592,747.3L1597.3,754.9L1604.4,765.9L1609.7,774.7L1615,784.4L1620.4,795.1L1625.7,806.6L1631,818.8L1636.3,832.4L1639.8,842.2L1645.1,858.1L1650.4,875.3L1654,887.9L1659.3,909.5L1661.1,917.7L1664.6,936.1L1669.9,968.3L1673.4,993.6L1677,1022.9L1680.5,1054.8L1684.1,1091" stroke="#0072BD"/>
<path d="M233.1,143L235.5,199.4L236.7,217.3L237.9,231.7L240.2,256.8L241.4,267.4L242.6,274.5L243.8,280L245,284.4L246.2,287.9L247.4,290.6L249.7,295L253.3,300.2L256.9,304.7L261.6,309.7L267.5,315.3L274.7,321.5L280.6,326.3L286.5,330.6L292.5,334.5L303.1,340.7L313.7,346.1L324.2,351.2L345.3,361.2L376.9,375.2L398,384.1L450.7,405.4L503.4,427.1L535,439.2L566.6,450.8L587.7,458.2L608.7,465L703.6,493.5L724.7,499.5L840.6,531.1L882.7,542.3L935.4,555.1L977.6,564.5L998.6,568.7L1030.3,574.5L1114.6,588.3L1156.7,595.4L1274.8,616.5L1302.9,621.9L1342.3,629.8L1364.7,634.6L1387.2,639.9L1409.7,645.8L1426.6,651.1L1449.1,659L1471.6,667.8L1488.5,674.9L1499.7,680.1L1505.4,682.9L1516.6,688.9L1522.2,692.2L1533.5,699.4L1539.1,703.2L1544.7,707.4L1550.4,712L1556,716.9L1561.6,722.1L1567.2,727.8L1574.6,735.8L1579.9,742.1L1587,751.7L1594,762.2L1601,773.5L1604.6,779.7L1609.8,789.7L1615.1,800.5L1622.2,816.3L1625.7,824.7L1631,838.7L1634.5,848.7L1639.8,865L1643.3,876.5L1646.8,889L1652.1,910.5L1653.9,918.7L1657.4,936.9L1662.7,968.9L1666.2,994.1L1669.7,1023.2L1673.2,1054.9L1676.8,1091.1" stroke="#EDB120"/>
<path d="M1266.3,616.1L1300,622.4L1339.2,630.4L1361.7,635.3L1384.1,640.5L1400.9,644.9L1417.8,649.9L1434.6,655.6L1457,664L1479.5,673.2L1496.3,680.8L1507.5,686.6L1513.1,689.8L1524.3,696.6L1535.6,704.1L1541.2,708.3L1546.8,712.9L1552.4,717.8L1558,723.1L1563.6,728.7L1571,736.7L1576.2,743.1L1581.5,750.1L1586.8,757.8L1592,765.9L1597.3,774.5L1600.8,780.6L1604.3,787.1L1609.6,797.7L1618.4,817.1L1621.9,825.5L1625.4,834.6L1628.9,844.3L1634.2,860.1L1641.2,883.2L1646.5,903.5L1650,919.1L1653.5,937.3L1658.8,969.2L1662.3,994.3L1665.8,1023.3L1669.3,1054.9L1672.8,1091.1" stroke="#7E2F8E"/>
<path d="M1432.5,656.3L1449.3,662.6L1466.1,669.3L1482.9,676.4L1494.1,681.6L1505.3,687.5L1516.5,693.9L1527.7,701.1L1533.3,705L1538.9,709.2L1544.5,713.8L1550.1,718.7L1555.7,724L1561.3,729.7L1570.4,739.7L1577.4,748.7L1584.4,758.7L1591.4,769.6L1598.4,781.5L1605.4,794.9L1612.4,809.9L1619.5,826.3L1624.7,840.1L1630,855.4L1637,877.7L1642.2,896.9L1645.7,911.5L1649.2,928.4L1652.8,947.7L1658,981.4L1661.5,1008.5L1665,1038.9L1668.5,1071.9L1670.3,1091.1" stroke="#77AC30"/>
<path d="M334.1,357.3L344.6,362.3L365.6,371.8L397,385.2L449.3,406.5L501.7,428.2L543.6,444.3L575,455.6L606.5,466.1L700.7,494.7L721.7,500.7L836.9,532.4L878.8,543.6L931.1,556.4L973,565.8L994,570.1L1025.4,575.9L1140.6,595L1182.5,602.4L1257.3,616.1L1285.2,621.4L1313.2,627L1346.7,634.1L1369.1,639.1L1385.8,643.3L1402.6,647.9L1419.4,653.2L1436.2,659.1L1452.9,665.5L1475.3,674.8L1486.5,679.8L1492.1,682.5L1503.2,688.3L1514.4,694.8L1520,698.3L1531.2,705.9L1536.8,710.1L1542.4,714.7L1548,719.6L1553.6,724.9L1559.2,730.6L1568.2,740.7L1573.5,747.3L1580.5,757.1L1587.5,767.8L1594.5,779.3L1599.7,788.9L1605,799.4L1612,814.7L1617.3,827.1L1620.8,836.1L1626,850.8L1631.3,866.9L1634.8,878.3L1638.3,890.7L1641.8,904.5L1645.3,920.1L1647,928.8L1652.3,958.7L1655.8,981.7L1657.5,994.7L1661,1023.5L1664.5,1055L1668,1091.1" stroke="#4DBEEE"/>
<path d="M1355,637.2L1377.3,642.5L1394,647L1410.7,652.1L1427.5,657.8L1449.8,666.3L1472.1,675.5L1483.2,680.5L1488.8,683.3L1500,689.1L1511.1,695.6L1516.7,699.2L1527.8,706.8L1533.4,711L1539,715.6L1544.6,720.6L1550.1,725.9L1555.7,731.6L1563,739.6L1570,748.3L1577,758L1582.2,766L1587.5,774.4L1594.5,786.5L1601.4,800.3L1610.2,819.5L1615.4,832.3L1622.4,851.5L1629.4,873.1L1634.6,891.3L1639.8,912.5L1643.3,929.3L1646.8,948.5L1650.3,970.1L1653.8,994.9L1657.3,1023.6L1660.8,1055L1664.3,1091.1" stroke="#A2142F"/>
<path d="M490,424.6L521.3,437.1L542.1,445L563,452.7L594.2,463.5L615.1,470.2L698.5,495.5L719.3,501.6L834,533.3L865.3,541.8L896.5,549.7L938.2,559.7L969.5,566.7L990.4,570.9L1011.2,574.9L1032.1,578.6L1105,590.6L1146.7,597.8L1235.7,614.1L1269.1,620.4L1291.3,624.8L1330.3,632.9L1358.1,639.1L1374.8,643.2L1391.5,647.7L1408.2,652.8L1424.9,658.5L1447.1,667L1469.4,676.3L1480.5,681.3L1486.1,684.1L1497.2,690L1508.3,696.5L1513.9,700L1525,707.7L1530.6,711.9L1536.1,716.5L1541.7,721.5L1547.3,726.8L1552.8,732.5L1561.9,742.6L1567.1,749.3L1574.1,759L1581,769.7L1588,781.2L1593.2,790.8L1598.5,801.2L1605.4,816.3L1610.7,828.6L1614.1,837.6L1619.4,852.2L1624.6,868.2L1628.1,879.5L1631.6,891.9L1635,905.5L1638.5,921L1640.3,929.7L1645.5,959.3L1649,982.2L1650.7,995.1L1654.2,1023.7L1657.7,1055L1661.2,1091.2" stroke="#0072BD"/>
<path d="M259.3,291.1L262.4,295.4L265.5,299L273.2,306.5L283.4,315.4L289,319.7L293.4,322.8L300.1,327L307.9,331.5L318.3,336.8L349.7,351.7L370.7,361.1L391.7,370.1L454.9,395.7L507.6,417.4L539.1,429.5L560.2,437.3L591.6,448.3L612.5,455.1L707.4,483.5L738.9,492.4L876.1,529.5L918.1,539.9L960.2,549.7L991.7,556.4L1023.2,562.4L1044.2,566L1107.5,576.2L1160.4,585.1L1284.5,607.2L1312.8,612.6L1352.3,620.6L1375,625.5L1392.1,629.5L1409.3,633.9L1426.6,639L1443.8,644.8L1460.9,651L1483.7,660.1L1501,667.5L1512.7,673.1L1524.3,679.4L1536,686.4L1541.8,690.2L1547.7,694.2L1553.7,698.6L1559.6,703.4L1565.5,708.5L1571.4,714L1577.3,719.9L1583.1,726L1588.8,732.7L1594.4,739.9L1601.7,750.3L1609,761.5L1616.3,773.9L1621.7,784.3L1627.2,795.4L1632.6,807.4L1638,820.2L1641.6,829.6L1647,844.8L1652.4,861.3L1655.9,873.1L1659.5,885.9L1663.1,900.1L1666.7,916.2L1668.5,925.2L1673.9,955.7L1677.4,979.3L1679.2,992.6L1682.7,1021.9L1686.3,1053.8L1689.8,1090.1L1669.9,1092L1666.4,1055.9L1662.9,1024.2L1659.4,995.1L1657.6,982L1654.1,958.9L1648.9,929L1645.4,912.2L1641.9,897.7L1638.5,884.8L1635,872.9L1629.8,856.5L1624.6,841.3L1619.4,827.7L1616,819.4L1610.8,807.7L1605.6,796.7L1600.5,786.7L1595.4,777.7L1588.5,766.6L1581.7,756.5L1575,747.4L1568.4,739.6L1562.9,733.8L1557.5,728.4L1552.2,723.4L1546.8,718.7L1541.5,714.4L1530.8,706.8L1520,699.9L1504,690.1L1493.4,684L1482.7,678.4L1466.2,670.9L1444.2,661.4L1422.3,652.5L1411.4,648.4L1400.4,644.6L1383.7,639.6L1366.9,635.2L1350.1,631.2L1327.7,626.2L1293.9,619.1L1265.8,613.6L1190.5,599.8L1148.3,592.3L1106.1,585.2L1042.7,574.9L1021.6,571.3L989.9,565.3L968.8,560.9L947.7,556.2L916,548.7L873.8,538.3L736.5,501.1L704.9,492.1L609.9,463.7L588.8,456.9L557.1,445.7L536,437.9L504.3,425.8L451.5,404.1L388.2,378.4L356.5,364.7L335.4,355L314.3,344.9L303.8,339.5L294.3,334L286,328.6L281.3,325.2L275.4,320.4L269.5,315.3L263.6,309.8L257.7,303.8L255.3,300.9L251.8,296.1Z" fill="#ff0000" stroke="none"/>
<path d="M1494.4,690.8L1505.6,697.4L1511.1,700.9L1522.2,708.6L1527.8,712.9L1533.3,717.5L1538.9,722.4L1544.4,727.8L1550,733.5L1559,743.6L1564.2,750.2L1571.2,760L1578.1,770.7L1585.1,782.1L1590.3,791.7L1595.5,802.1L1602.4,817.2L1607.7,829.4L1611.1,838.4L1616.4,852.9L1621.6,868.8L1625,880.2L1628.5,892.4L1632,906.1L1635.5,921.5L1637.2,930.1L1642.4,959.7L1645.9,982.4L1647.6,995.3L1651.1,1023.9L1654.6,1055.1L1658.1,1091.2" stroke="#D95319"/>
<path d="M233.1,143L235.4,201.6L236.6,219.7L237.8,233.9L240.1,258.4L241.3,268.8L242.5,275.8L243.6,281.2L244.8,285.6L246,289.2L247.1,291.9L249.5,296.5L253,301.8L256.5,306.4L261.2,311.6L267,317.3L272.8,322.7L278.7,327.6L284.5,332L291.5,336.8L302.1,343.1L312.5,348.6L322.8,353.7L343.6,363.7L374.7,377.8L395.5,386.7L447.4,408L499.3,429.6L530.5,441.8L561.6,453.4L592.7,464.3L613.5,470.9L696.6,496.3L717.3,502.4L831.5,534.2L862.7,542.7L883.4,548L914.6,555.7L956.1,565.3L987.2,571.8L1018.4,577.7L1101.4,591.6L1142.9,598.7L1248.2,618.3L1281.4,624.8L1314.7,631.8L1342.4,637.9L1364.5,643.2L1386.7,649.1L1403.3,654.2L1419.9,660L1442.1,668.5L1464.3,677.9L1475.3,682.9L1480.9,685.7L1492,691.6L1497.5,694.8L1508.6,701.8L1519.7,709.5L1525.2,713.8L1530.8,718.4L1536.3,723.4L1541.8,728.7L1547.4,734.5L1552.9,740.5L1558.1,746.7L1563.3,753.6L1568.5,761L1575.5,771.6L1582.4,783.1L1587.6,792.6L1592.8,803L1598,814.1L1603.2,826L1608.4,839.1L1611.9,848.6L1617.1,864.1L1622.3,880.8L1625.8,893L1631,914L1632.7,922L1636.2,939.8L1641.4,971L1644.9,995.5L1648.3,1024L1651.8,1055.1L1655.3,1091.2" stroke="#EDB120"/>
<path d="M1472,683.8L1483.1,689.4L1494.1,695.7L1505.2,702.7L1510.7,706.4L1516.2,710.4L1521.8,714.7L1527.3,719.3L1532.8,724.3L1538.3,729.7L1543.9,735.4L1551.1,743.5L1558,752.2L1565,761.9L1571.9,772.6L1578.8,784L1584,793.5L1589.2,803.8L1596.1,818.8L1601.3,831L1604.8,839.9L1609.9,854.3L1615.1,870.1L1618.6,881.4L1622.1,893.6L1625.5,907.1L1629,922.5L1632.4,940.2L1635.9,960.3L1639.4,983L1641.1,995.7L1644.5,1024.1L1648,1055.1L1651.5,1091.2" stroke="#7E2F8E"/>
<path d="M1276.2,625.9L1314.8,634.2L1342.4,640.5L1364.5,645.9L1381,650.5L1397.5,655.7L1408.6,659.5L1419.6,663.5L1436.1,670.1L1458.2,679.5L1469.2,684.6L1474.7,687.3L1485.8,693.3L1496.8,699.9L1502.3,703.5L1513.3,711.3L1518.8,715.6L1524.4,720.3L1529.9,725.3L1535.4,730.6L1540.9,736.4L1546.4,742.5L1551.6,748.7L1556.8,755.5L1561.9,762.9L1572.3,779.2L1579.2,791.2L1582.7,797.8L1587.8,808.3L1596.5,827.6L1603.4,845.3L1610.3,865.4L1617.2,887.9L1622.4,907.7L1625.8,922.9L1629.3,940.6L1634.4,971.6L1637.9,995.9L1641.3,1024.2L1644.8,1055.2L1648.2,1091.2" stroke="#77AC30"/>
<path d="M1421.8,666.4L1438.2,673.1L1454.7,680.2L1465.7,685.4L1476.7,691.1L1487.7,697.4L1498.7,704.4L1509.7,712.2L1515.2,716.5L1520.7,721.2L1526.2,726.2L1531.7,731.6L1537.2,737.4L1542.7,743.5L1547.9,749.7L1554.8,758.9L1563.4,771.8L1570.3,783L1577.1,795.4L1584,809.2L1590.9,824.4L1596.1,836.9L1601.2,850.8L1606.4,866.1L1611.6,882.6L1616.7,901.3L1620.2,915.5L1623.6,931.9L1627.1,950.7L1632.2,983.5L1635.7,1009.8L1639.1,1039.5L1642.5,1072L1644.3,1091.3" stroke="#4DBEEE"/>
<path d="M311.6,350L342.5,365.2L363,374.7L383.6,383.8L404.1,392.5L445.3,409.5L486.4,426.9L506.9,435.2L527.5,443.3L548,451.1L568.6,458.6L599.4,469.2L620,475.7L702.2,501L733,509.9L825.5,536L856.4,544.4L876.9,549.8L907.8,557.5L948.9,567.1L979.7,573.6L1010.5,579.5L1092.8,593.5L1133.9,600.7L1175,608.3L1227.1,618.3L1260,624.8L1281.9,629.4L1314.8,636.7L1342.3,643.1L1358.7,647.3L1375.2,651.9L1391.7,657.1L1408.1,662.9L1424.6,669.3L1446.5,678.6L1463,686.2L1473.9,691.9L1484.9,698.3L1495.9,705.3L1506.9,713.1L1512.3,717.5L1517.8,722.1L1523.3,727.2L1528.8,732.6L1534.3,738.3L1541.5,746.5L1548.4,755.2L1555.2,764.9L1562.1,775.5L1569,786.9L1574.1,796.3L1579.3,806.5L1584.4,817.5L1589.6,829.2L1593,837.7L1598.2,851.6L1603.3,866.8L1608.5,883.2L1611.9,895.3L1615.3,908.7L1618.8,923.9L1620.5,932.4L1625.6,961.3L1629.1,983.7L1630.8,996.4L1634.2,1024.4L1637.7,1055.2L1639.4,1072L1641.1,1091.3" stroke="#A2142F"/>
<path d="M1356.8,648L1373.3,652.6L1389.7,657.8L1406.1,663.7L1422.5,670.1L1439,677L1455.4,684.3L1466.4,689.8L1471.8,692.7L1482.8,699.1L1493.7,706.2L1504.7,714.1L1510.2,718.4L1515.6,723.1L1521.1,728.1L1526.6,733.5L1532.1,739.3L1537.6,745.4L1542.7,751.7L1549.6,760.9L1558.1,773.8L1566.7,787.8L1573.6,800.5L1582.1,818.4L1589,834.2L1594.1,847.5L1601,867.4L1606.1,883.8L1611.3,902.4L1616.4,924.4L1619.8,941.9L1623.3,961.7L1626.7,984L1630.1,1010.2L1633.6,1039.7L1637,1072L1638.7,1091.3" stroke="#0072BD"/>
<path d="M1278,630.6L1310.7,638L1338.1,644.5L1359.9,650.2L1376.3,655L1392.7,660.5L1414.6,668.7L1431,675.4L1452.8,685.2L1463.8,690.6L1469.2,693.6L1480.2,700L1491.1,707.1L1502,715L1507.5,719.3L1513,724L1518.4,729.1L1523.9,734.5L1529.4,740.3L1534.8,746.4L1540,752.7L1545.1,759.5L1550.2,766.9L1560.5,783L1567.3,794.9L1575.9,811.9L1584.4,830.9L1591.3,848.3L1598.1,868.1L1605,890.3L1610.1,909.8L1613.5,924.9L1616.9,942.3L1622.1,972.8L1625.5,996.8L1628.9,1024.7L1632.3,1055.3L1634.1,1072L1635.8,1091.3" stroke="#D95319"/>
<path d="M1476.7,700.8L1487.6,708L1493,711.8L1503.9,720.2L1509.4,725L1514.8,730L1520.3,735.5L1525.7,741.3L1531.2,747.4L1536.3,753.7L1541.4,760.5L1548.3,770.4L1555.1,781.2L1561.9,792.8L1567,802.4L1573.8,816.4L1579,827.7L1584.1,840.1L1587.5,849L1592.6,863.6L1597.7,879.5L1601.1,890.9L1604.6,903.5L1608,917.6L1609.7,925.4L1613.1,942.7L1618.2,973.1L1619.9,984.5L1623.3,1010.5L1628.4,1055.4L1630.1,1072L1631.9,1091.3" stroke="#EDB120"/>
<path d="M264,317.4L272.1,325.2L280.1,332L288.1,337.9L297.3,343.8L310.9,351.4L321.1,356.6L341.5,366.7L361.9,376.2L382.2,385.3L402.6,394L443.3,411L484.1,428.3L514.6,440.7L545.2,452.6L565.6,460.1L585.9,467.3L616.5,477.3L687.8,499.6L708.2,505.7L820.2,537.8L861,549L891.5,556.8L922.1,564.2L942.5,568.9L962.8,573.3L993.4,579.5L1023.9,585L1085.1,595.4L1125.8,602.6L1166.5,610.4L1223.6,621.6L1250.8,627.1L1278,633L1310.6,640.5L1337.8,647.2L1354.1,651.6L1370.4,656.4L1381.3,660L1397.6,665.9L1413.9,672.4L1435.6,681.8L1452,689.4L1462.8,695.2L1473.7,701.7L1484.6,708.9L1495.4,716.8L1500.9,721.2L1506.3,725.9L1511.8,731L1517.2,736.4L1522.6,742.3L1529.8,750.4L1536.6,759.2L1543.4,768.9L1550.2,779.4L1557,790.7L1562.1,800L1567.2,810.1L1572.3,821L1577.4,832.5L1580.8,840.9L1585.9,854.5L1591,869.5L1596.1,885.7L1599.6,897.6L1603,910.9L1606.4,925.8L1608.1,934.2L1613.2,962.7L1616.6,984.8L1618.3,997.2L1621.7,1024.9L1625.1,1055.4L1626.8,1072L1628.5,1091.3" stroke="#7E2F8E"/>
<path d="M1476.9,706.1L1487.7,713.6L1493.2,717.7L1498.6,722.1L1504,726.9L1509.5,732L1514.9,737.4L1525.7,749.4L1529.1,753.5L1534.2,760.2L1539.3,767.3L1546.1,777.7L1552.9,788.8L1558,797.8L1563.1,807.6L1569.9,821.8L1575,833.3L1580.1,846L1583.5,855.2L1588.6,870.2L1593.7,886.3L1597.1,898.2L1602.2,918.6L1607.3,943.6L1612.4,973.7L1614.1,985L1617.5,1010.8L1622.6,1055.4L1624.3,1072L1626,1091.4" stroke="#77AC30"/>
<path d="M1219.4,622.7L1251.9,629.5L1284.4,636.7L1316.9,644.4L1338.5,650L1354.8,654.6L1371,659.7L1387.2,665.4L1408.9,673.9L1430.6,683.4L1446.8,691.1L1457.6,696.9L1463,700.1L1473.9,707L1484.7,714.6L1490.1,718.7L1495.5,723.1L1500.9,727.8L1506.3,732.9L1511.8,738.4L1522.6,750.4L1526,754.5L1531.1,761.2L1536.1,768.4L1541.2,776L1551.4,792.6L1554.8,798.7L1559.9,808.5L1568.3,826.4L1575.1,842.4L1581.9,860.8L1587,876.1L1590.4,887L1595.5,905.2L1600.5,926.8L1605.6,953.4L1609,974L1612.4,997.7L1615.8,1025.2L1619.2,1055.5L1620.9,1072L1622.6,1091.4" stroke="#4DBEEE"/>
<path d="M1449.2,694.8L1460,701L1470.8,707.9L1481.6,715.5L1487,719.6L1492.4,724L1497.8,728.8L1503.2,733.9L1508.6,739.4L1519.4,751.4L1526.2,759.9L1532.9,769.4L1539.7,779.7L1546.5,790.7L1551.5,799.7L1556.6,809.4L1561.7,819.9L1568.4,835L1571.8,843.2L1576.9,856.7L1582,871.5L1587,887.6L1590.4,899.4L1593.8,912.5L1597.2,927.3L1598.9,935.6L1604,963.7L1607.3,985.6L1609,997.9L1612.4,1025.3L1615.8,1055.5L1617.5,1072.1L1619.2,1091.4" stroke="#A2142F"/>
<path d="M283.2,335.9L288.8,340L295.7,344.5L300.2,347.2L310.3,352.9L330.6,363.2L350.8,373L371,382.3L391.3,391.2L441.8,412.5L492.4,434.1L522.7,446.3L542.9,454.1L563.2,461.6L583.4,468.8L613.7,478.9L684.5,501.3L725,513.4L816,539.6L846.3,548.1L866.6,553.4L896.9,561.1L937.4,570.7L967.7,577.3L998,583.3L1109.3,602.7L1139.6,608.5L1180.1,616.5L1221.9,624.9L1254.3,631.8L1292.1,640.5L1319,647.1L1340.6,652.9L1356.8,657.6L1373,663L1389.2,668.9L1405.4,675.5L1427,685L1443.2,692.7L1454,698.6L1464.8,705.2L1475.6,712.5L1486.4,720.5L1491.8,724.9L1497.2,729.7L1502.6,734.9L1508,740.4L1513.4,746.2L1520.5,754.4L1527.2,763.2L1534,772.9L1540.7,783.4L1547.5,794.6L1552.6,803.8L1557.6,813.8L1564.4,828.2L1569.5,839.9L1572.8,848.4L1577.9,862.2L1583,877.4L1586.4,888.2L1589.7,900L1593.1,913L1596.5,927.8L1598.2,936L1603.3,964.1L1606.6,985.8L1608.3,998.1L1611.7,1025.4L1615.1,1055.5L1616.8,1072.1L1618.5,1091.4" stroke="#0072BD"/>
<path d="M1454.8,702.7L1465.5,709.6L1470.9,713.4L1481.7,721.4L1487,725.9L1492.4,730.7L1497.8,735.8L1503.2,741.3L1508.6,747.2L1517.3,757.5L1522.4,764.2L1529.1,773.9L1535.8,784.4L1542.6,795.6L1547.6,804.7L1552.7,814.7L1559.4,829L1564.4,840.7L1567.8,849.1L1572.9,863L1577.9,878.1L1581.3,888.9L1584.6,900.6L1588,913.6L1591.4,928.3L1593.1,936.5L1598.1,964.4L1601.5,986.1L1603.2,998.3L1606.5,1025.5L1609.9,1055.6L1611.6,1072.1L1613.3,1091.4" stroke="#D95319"/>
<path d="M772.9,528.8L813.2,540.5L853.4,551.7L903.8,564.5L944,573.9L964.1,578.2L994.3,584.2L1105,603.7L1135.2,609.5L1175.5,617.5L1217.1,626.1L1249.3,633L1287,641.8L1319.2,649.9L1340.7,655.8L1356.8,660.8L1372.9,666.4L1394.4,674.8L1415.9,684.1L1426.6,689.1L1437.4,694.4L1448.1,700.3L1453.5,703.6L1464.2,710.5L1475,718.2L1480.3,722.4L1485.7,726.8L1491.1,731.6L1496.5,736.8L1501.8,742.3L1512.6,754.4L1521,765.2L1527.7,774.9L1534.4,785.4L1541.2,796.5L1546.2,805.7L1551.3,815.6L1556.3,826.2L1561.3,837.5L1566.4,849.9L1569.8,859L1574.8,873.6L1579.8,889.5L1583.2,901.2L1588.3,921.2L1593.3,945.7L1598.3,975.2L1600,986.4L1603.4,1011.7L1608.4,1055.6L1610.1,1072.1L1611.8,1091.5" stroke="#EDB120" stroke-width="8.6"/>
<path d="M233,143L235.3,206.6L236.4,225.1L237.5,239.1L239.8,262.3L240.9,272L242,278.8L243.2,284.1L245.4,292.1L246.6,295L248.8,299.8L252.2,305.6L255.6,310.6L259,314.8L263.5,319.9L269.1,325.6L274.7,330.8L280.4,335.5L286,339.8L291.6,343.7L297.3,347.3L309.5,354.3L319.6,359.6L339.6,369.7L359.6,379.3L389.6,392.8L439.7,414.1L479.7,431.4L509.8,443.8L539.8,455.6L569.8,466.8L589.8,473.8L669.9,499.8L700,509.2L800.1,538.5L840.1,549.9L860.1,555.3L890.2,562.9L930.2,572.6L960.2,579.2L990.3,585.1L1100.4,604.7L1130.4,610.5L1170.5,618.6L1211.8,627.2L1243.9,634.2L1281.3,643.1L1313.4,651.2L1334.7,657.2L1345.4,660.5L1356.1,664.1L1372.1,669.9L1393.5,678.6L1414.9,688.2L1430.9,696L1441.6,702L1447,705.3L1457.6,712.3L1468.3,720.1L1473.7,724.3L1479,728.7L1484.4,733.6L1489.7,738.8L1495,744.3L1505.7,756.4L1514.1,767.2L1520.8,776.9L1527.5,787.3L1534.2,798.5L1539.2,807.6L1544.2,817.4L1549.2,827.9L1554.2,839.2L1559.3,851.5L1562.6,860.5L1567.6,875L1572.6,890.8L1576,902.4L1581,922.2L1586,946.5L1591,975.8L1592.7,986.9L1596.1,1012L1601.1,1055.7L1602.7,1072.1L1604.4,1091.5" stroke="#77AC30"/>
<path d="M1417.8,691.5L1428.5,696.9L1439.1,702.9L1449.8,709.6L1460.5,717L1471.1,725.2L1476.5,729.7L1481.8,734.5L1487.1,739.7L1492.5,745.3L1497.8,751.2L1506.5,761.6L1513.2,770.6L1519.8,780.5L1526.5,791.1L1533.2,802.4L1539.9,815L1546.5,828.8L1551.5,840L1556.6,852.3L1559.9,861.2L1564.9,875.7L1569.9,891.4L1573.2,903L1576.6,915.8L1579.9,930.3L1583.3,946.9L1586.6,965.8L1589.9,987.1L1591.6,999.2L1594.9,1026L1598.3,1055.7L1600,1072.1L1601.6,1091.5" stroke="#4DBEEE"/>
<path d="M1198.1,626L1224.8,631.8L1251.4,637.9L1288.7,647L1315.3,654.1L1336.6,660.3L1352.6,665.5L1368.6,671.4L1384.6,677.9L1405.9,687.3L1421.8,694.9L1432.5,700.6L1437.8,703.8L1448.5,710.5L1459.1,717.9L1464.5,721.9L1475.1,730.6L1480.4,735.5L1485.8,740.7L1496.4,752.2L1501.7,758.4L1506.7,764.8L1511.7,771.6L1516.8,778.9L1521.8,786.7L1528.4,797.6L1536.8,812.7L1545.1,829.7L1550.1,840.8L1553.4,848.9L1560.1,866.6L1565.1,881.4L1568.4,892L1573.4,909.8L1578.4,930.8L1583.4,956.5L1586.8,976.4L1590.1,999.4L1593.5,1026.1L1596.8,1055.7L1598.5,1072.1L1600.1,1091.5" stroke="#A2142F" stroke-width="8.6"/>
<path d="M296.8,348.7L309,355.8L328.8,366.2L348.7,376.1L368.6,385.4L398.4,398.7L438.2,415.6L477.9,432.9L497.8,441.2L537.5,457.1L557.4,464.7L577.3,471.9L607.1,482.1L686.6,507.8L716.4,516.9L795.9,540.4L835.7,551.8L875.4,562.3L915.2,572.1L935,576.7L954.9,581L984.7,587L1094,606.7L1113.9,610.5L1153.6,618.6L1199.4,628.3L1231.2,635.4L1263,643L1289.5,649.7L1310.8,655.5L1326.7,660.1L1342.6,665.2L1358.5,670.9L1374.4,677.2L1395.6,686.4L1416.8,696.6L1427.5,702.3L1438.1,708.8L1448.7,715.9L1459.3,723.8L1464.6,728L1469.9,732.5L1475.2,737.4L1480.5,742.7L1485.8,748.3L1496.4,760.5L1503.1,769L1509.7,778.5L1516.3,788.7L1523,799.6L1528,808.3L1532.9,817.8L1539.6,831.5L1544.6,842.5L1549.5,854.7L1552.9,863.5L1557.8,877.8L1562.8,893.3L1566.2,904.7L1569.5,917.4L1574.5,939.7L1579.4,966.9L1582.8,988L1584.4,999.9L1587.7,1026.4L1591.1,1055.8L1592.7,1072.2L1594.4,1091.6" stroke="#D95319"/>
<path d="M1323.7,660.8L1339.6,665.9L1355.4,671.6L1371.3,678L1387.2,684.8L1403,692.2L1418.9,700.2L1429.5,706.3L1440.1,713.1L1450.6,720.7L1461.2,729L1466.5,733.5L1471.8,738.4L1477.1,743.6L1482.4,749.3L1493,761.5L1497.9,767.8L1506.2,779.5L1514.5,792.4L1522.8,806.3L1529.4,818.7L1537.7,835.9L1544.3,851.3L1549.3,864.2L1555.9,883.5L1560.9,899.5L1565.8,918L1569.1,932.2L1572.5,948.7L1575.8,967.2L1579.1,988.2L1582.4,1012.9L1585.7,1040.9L1589,1072.2L1590.7,1091.6" stroke="#EDB120"/>
<path d="M1236,639.1L1267.6,646.9L1294,653.9L1315.1,659.9L1330.9,664.9L1346.7,670.4L1357.3,674.4L1367.8,678.7L1383.7,685.6L1404.7,695.6L1415.3,701.1L1420.6,704L1431.1,710.5L1441.7,717.7L1446.9,721.6L1457.5,729.9L1462.8,734.4L1468,739.4L1473.3,744.6L1483.9,756.2L1492.4,766.7L1497.4,773.3L1502.3,780.5L1512.2,796.1L1520.5,810.3L1528.7,826.3L1537,844.2L1543.6,860.5L1550.2,879.2L1556.8,900.1L1561.8,918.5L1565.1,932.7L1570,958.1L1573.3,977.7L1576.6,1000.3L1579.9,1026.6L1583.2,1055.9L1584.9,1072.2L1586.5,1091.6" stroke="#7E2F8E"/>
<path d="M1339.9,669.3L1355.7,675.2L1371.5,681.7L1392.5,691.3L1408.3,699.1L1418.9,704.9L1429.4,711.4L1439.9,718.6L1450.5,726.6L1461,735.4L1466.3,740.3L1471.5,745.6L1476.8,751.2L1487.3,763.5L1493.9,772.1L1500.5,781.5L1507.1,791.7L1515.4,805.4L1521.9,817.4L1528.5,830.6L1535.1,845L1540.1,857L1545,870.3L1551.6,889.9L1556.6,906.5L1559.9,919.1L1563.2,933.2L1566.5,949.5L1569.8,967.9L1573.1,988.8L1576.3,1013.2L1579.6,1041L1582.9,1072.2L1584.6,1091.6" stroke="#77AC30"/>
<path d="M257.4,315.7L260.7,319.8L265.1,324.7L272.9,332.4L280.6,339.1L290.6,346.5L298.4,351.5L308.2,357.3L327.9,367.8L347.6,377.6L367.3,386.9L386.9,395.9L475.5,434.4L495.2,442.8L524.7,454.8L544.4,462.5L573.9,473.5L593.6,480.4L672.3,506.4L692,512.6L721.6,521.6L790.4,542.2L820,550.8L849.5,559L888.9,569.1L928.2,578.5L947.9,582.9L967.6,587L997.1,592.7L1056.2,603.2L1085.7,608.7L1115.2,614.6L1154.6,622.9L1195.3,631.7L1221.5,637.8L1253.1,645.5L1284.6,653.8L1305.6,659.8L1321.3,664.6L1337.1,670L1352.9,676L1368.6,682.5L1384.4,689.6L1405.4,699.9L1415.9,705.7L1426.4,712.3L1436.9,719.5L1447.4,727.5L1452.7,731.8L1457.9,736.4L1463.2,741.3L1468.4,746.6L1473.7,752.2L1484.2,764.5L1490.8,773.1L1497.3,782.6L1503.9,792.7L1510.5,803.5L1515.4,812.2L1522,824.8L1526.9,835L1531.9,845.9L1536.8,857.8L1540.1,866.5L1545,880.6L1550,895.9L1553.3,907.1L1556.5,919.6L1561.5,941.6L1566.4,968.3L1569.7,989L1571.3,1000.7L1574.6,1026.9L1577.9,1056L1579.6,1072.2L1581.2,1091.7" stroke="#4DBEEE"/>
<path d="M1266.3,650.3L1287.3,656L1308.2,662.1L1324,667.1L1339.7,672.7L1355.4,678.9L1376.4,688L1392.1,695.5L1407.8,703.6L1418.3,709.8L1423.5,713.1L1434,720.4L1444.5,728.4L1455,737.3L1460.2,742.3L1470.7,753.2L1481.2,765.6L1489.4,776.4L1499.2,791.1L1509.1,807.4L1517.3,822.5L1525.5,839.4L1532,854.5L1538.6,871.8L1545.1,891.3L1550.1,907.7L1555,927L1558.3,942L1563.2,968.6L1566.5,989.3L1569.8,1013.5L1573,1041.2L1576.3,1072.2L1578,1091.7" stroke="#A2142F"/>
<path d="M233,143L235.2,209.8L236.3,228.6L238.5,253.9L240.7,274.1L241.8,280.7L242.9,286L245.1,294L248.5,301.9L250.7,306.1L254,311.6L257.3,316.3L261.7,321.6L266.1,326.5L271.7,332.1L277.2,337L282.7,341.5L289.3,346.4L294.9,350.1L308,358L327.6,368.5L347.2,378.4L366.9,387.7L386.5,396.7L474.8,435.2L504.2,447.6L533.7,459.4L563.1,470.7L592.5,481.2L661.2,504L690.6,513.5L788.8,543.2L828,554.5L867.3,565.1L906.5,574.9L945.7,583.8L975.2,589.9L1083.1,609.7L1112.5,615.6L1142,621.8L1187.1,631.7L1218.5,639L1250,646.8L1281.4,655.2L1302.3,661.2L1323.3,667.8L1339,673.4L1349.5,677.5L1360,681.8L1380.9,691.2L1401.8,701.6L1412.3,707.4L1417.6,710.6L1428,717.6L1438.5,725.3L1443.7,729.4L1454.2,738.3L1459.5,743.3L1464.7,748.6L1475.2,760.3L1480.4,766.6L1485.3,772.9L1491.9,782.2L1498.4,792.2L1506.6,805.5L1511.6,814.2L1518.1,826.7L1523,836.8L1528,847.6L1532.9,859.4L1537.8,872.5L1541.1,882L1547.6,902.6L1550.9,914.4L1554.2,927.5L1559.1,950.8L1564,978.9L1565.7,989.6L1568.9,1013.7L1573.9,1056L1575.5,1072.2L1577.1,1091.7" stroke="#0072BD"/>
<path d="M233,143L235.2,211.1L236.3,230L237.3,243.8L239.5,265.8L240.6,274.9L241.7,281.5L242.8,286.8L245,294.7L248.3,302.8L250.5,307.1L253.8,312.6L257.1,317.4L261.4,322.9L265.8,327.8L271.3,333.4L276.8,338.4L282.3,342.9L288.8,347.8L294.3,351.6L307.3,359.5L326.8,370.1L346.2,380L365.7,389.3L385.1,398.3L472.7,436.8L501.9,449.1L531.1,461L560.2,472.3L589.4,482.8L647.8,502.5L677,512.1L706.1,521.3L774.2,542.1L813.1,553.6L832.6,559.1L852.1,564.4L881.2,571.9L900.7,576.7L939.6,585.7L968.8,591.8L1075.8,611.7L1105,617.7L1134.2,624L1173.7,632.8L1204.9,640.1L1236,648L1267.2,656.4L1293.1,664L1313.9,670.8L1329.5,676.4L1350.3,684.9L1371,694.4L1391.8,704.9L1402.2,710.9L1407.4,714.1L1417.8,721.2L1428.1,728.9L1433.3,733.1L1443.7,742.1L1448.9,747.2L1454.1,752.5L1464.5,764.3L1469.7,770.7L1474.5,777.1L1481,786.3L1487.6,796.2L1495.7,809.5L1500.6,818.1L1507.1,830.4L1511.9,840.3L1516.8,851L1521.7,862.6L1526.6,875.5L1529.8,884.8L1536.3,905.1L1539.6,916.7L1542.8,929.6L1547.7,952.6L1552.6,980.2L1554.2,990.6L1557.4,1014.4L1562.3,1056.2L1563.9,1072.3L1565.6,1091.8" stroke="#77AC30"/>
<path d="M1389,705.7L1399.4,711.7L1409.7,718.4L1420.1,725.9L1430.4,734.1L1440.8,743.1L1446,748.1L1451.2,753.5L1461.5,765.3L1469.9,775.9L1476.4,784.9L1482.9,794.7L1491,807.8L1497.5,819L1502.4,828.1L1508.8,841.2L1513.7,851.8L1518.6,863.4L1523.4,876.2L1528.3,890.3L1531.5,900.4L1534.8,911.4L1538,923.5L1542.9,944.9L1547.8,970.8L1551,990.9L1552.6,1002.3L1555.9,1027.7L1559.1,1056.2L1560.7,1072.3L1562.4,1091.8" stroke="#4DBEEE"/>
<path d="M233,143L235.1,211.8L236.2,230.7L237.3,244.5L239.5,266.3L240.6,275.3L241.7,281.9L242.8,287.1L244.9,295.1L248.2,303.2L250.4,307.5L253.7,313.2L256.9,318L261.3,323.5L265.6,328.4L271.1,334L276.5,339L282,343.6L288.5,348.5L294,352.3L306.9,360.2L326.3,370.8L345.6,380.7L364.9,390.1L384.3,399.1L471.4,437.5L500.4,449.9L529.4,461.7L558.4,473.1L587.4,483.6L645.5,503.4L674.5,513L722.9,528.2L800.3,551.7L819.6,557.4L839,562.7L887.3,575.3L926,584.5L955.1,590.8L984.1,596.5L1042.1,607.2L1071.1,612.8L1100.2,618.7L1129.2,625L1168.5,633.9L1199.5,641.3L1230.5,649.3L1261.5,657.8L1287.3,665.5L1308,672.3L1323.4,678L1344.1,686.5L1364.8,696L1385.4,706.6L1395.7,712.6L1400.9,715.9L1411.2,723L1421.6,730.8L1426.7,735L1437,744.1L1442.2,749.1L1452.5,760.3L1462.9,772.7L1467.7,779.1L1474.2,788.4L1480.6,798.3L1488.7,811.5L1493.6,820L1500,832.3L1504.9,842.1L1509.7,852.7L1514.6,864.2L1519.4,877L1522.7,886.2L1529.1,906.4L1532.4,917.9L1535.6,930.7L1540.4,953.4L1545.3,980.8L1546.9,991.2L1550.1,1014.8L1555,1056.2L1556.6,1072.3L1558.2,1091.8" stroke="#A2142F"/>
<path d="M1387.9,710.3L1398.2,716.7L1408.5,723.9L1418.8,731.7L1424,735.9L1434.3,745L1439.4,750.1L1444.6,755.5L1454.9,767.4L1461.7,775.8L1468.1,784.7L1474.6,794.3L1482.6,807.2L1489.1,818.1L1495.5,830L1502,843L1506.8,853.5L1511.7,865L1516.5,877.7L1521.3,891.7L1524.6,901.7L1527.8,912.6L1531,924.6L1535.9,945.8L1540.7,971.5L1543.9,991.5L1545.5,1002.7L1548.8,1028L1552,1056.3L1553.6,1072.3L1555.2,1091.8" stroke="#0072BD"/>
<path d="M1134.5,628.3L1169.1,636.3L1194.8,642.5L1220.5,649.2L1251.3,657.7L1271.9,663.7L1292.5,670.2L1313,677.5L1328.4,683.6L1349,692.7L1369.5,702.8L1379.8,708.3L1384.9,711.2L1395.2,717.6L1405.5,724.8L1410.6,728.6L1420.9,736.9L1431.2,746L1436.3,751.1L1441.5,756.5L1451.7,768.4L1458.5,776.9L1463.3,783.4L1468.1,790.4L1474.6,800.3L1485.8,819.1L1490.7,827.9L1495.5,837.3L1503.5,854.4L1508.4,865.8L1511.6,874.1L1518,892.3L1521.2,902.3L1524.4,913.2L1529.3,931.8L1534.1,954.3L1537.3,971.8L1540.5,991.7L1542.1,1003L1545.4,1028.1L1548.6,1056.3L1550.2,1072.3L1551.8,1091.8" stroke="#D95319"/>
<path d="M1402.7,725.7L1413,733.6L1418.1,737.8L1428.3,747L1433.5,752.1L1443.7,763.3L1454,775.8L1458.8,782.2L1465.2,791.5L1471.6,801.4L1479.7,814.5L1484.5,823L1490.9,835.1L1495.7,844.8L1500.5,855.2L1505.3,866.6L1510.1,879.2L1513.4,888.3L1519.8,908.2L1523,919.6L1526.2,932.3L1531,954.7L1535.8,981.8L1537.4,992L1540.6,1015.3L1545.5,1056.4L1547.1,1072.3L1548.7,1091.9" stroke="#EDB120"/>
<path d="M335.1,377.4L363.9,391.6L392.7,405L479.1,443.3L517.5,459.4L555.9,474.6L584.7,485.2L651.9,508.3L680.7,517.8L767.1,544.9L805.5,556.4L824.7,561.9L843.9,567.2L872.7,574.7L891.9,579.5L930.3,588.6L959.1,594.7L978.2,598.5L1055,612.9L1083.8,618.7L1103,622.9L1141.4,631.5L1176.7,639.9L1202.3,646.3L1233,654.6L1258.6,662L1279.1,668.3L1299.6,675.2L1315,681L1330.4,687.4L1350.9,696.8L1366.2,704.5L1376.5,709.9L1381.6,712.9L1386.7,716L1397,722.9L1407.2,730.4L1417.5,738.8L1427.7,747.9L1432.8,753L1438,758.5L1448.2,770.4L1454.9,778.9L1461.3,787.8L1467.8,797.4L1475.8,810.2L1482.2,821.1L1488.6,832.9L1495,845.7L1499.8,856.1L1504.7,867.4L1509.5,880L1514.3,893.7L1517.5,903.6L1520.7,914.4L1523.9,926.3L1528.7,947.2L1531.9,963.6L1535.1,982.1L1536.7,992.3L1539.9,1015.4L1544.8,1056.4L1546.4,1072.4L1548,1091.9" stroke="#7E2F8E"/>
<path d="M1409.6,735.4L1419.8,744.2L1424.9,748.9L1430,754L1435.1,759.5L1440.2,765.3L1450.5,777.9L1455.3,784.3L1460.1,791.2L1466.5,800.9L1474.5,813.9L1480.9,824.9L1485.7,833.8L1492.1,846.6L1496.9,856.9L1501.7,868.2L1504.9,876.4L1508.1,885.1L1512.9,899.2L1516.1,909.5L1519.3,920.8L1524.1,940.3L1528.9,964L1533.7,992.5L1536.9,1015.6L1541.7,1056.4L1543.3,1072.4L1544.9,1091.9" stroke="#77AC30"/>
<path d="M1041.1,612L1069.8,617.7L1107.9,626.1L1151.2,636.1L1186.9,644.9L1217.5,653.1L1248.1,661.8L1273.6,669.7L1293.9,676.7L1309.2,682.5L1329.6,691.2L1350,700.9L1360.2,706.1L1370.4,711.6L1380.6,717.7L1385.7,721.1L1395.9,728.3L1401,732.3L1411.2,740.6L1421.3,749.9L1426.4,755L1436.6,766.3L1441.7,772.5L1448.4,781L1453.2,787.6L1459.6,797L1470.8,814.9L1477.1,825.9L1481.9,834.8L1486.7,844.2L1491.5,854.3L1496.3,865.1L1499.5,873L1505.9,890.4L1512.2,910.1L1517,927.4L1521.8,948.2L1526.6,973.3L1529.8,992.8L1531.4,1003.9L1534.6,1028.6L1537.8,1056.5L1539.4,1072.4L1541,1091.9" stroke="#4DBEEE" stroke-width="8.6"/>
<path d="M258.6,323.2L265.1,331L272.6,338.8L281.1,346.3L290.8,353.6L296.1,357.3L305.7,363.2L315.2,368.7L324.7,373.9L343.7,383.9L372.3,397.8L391.3,406.6L467.4,440.6L486.5,448.9L515,461L543.6,472.5L562.6,479.8L591.1,490.2L638.7,506.8L667.3,516.5L695.8,525.7L733.9,537.8L771.9,549.7L800.5,558.3L829,566.5L857.6,574.1L886.1,581.4L905.1,586.1L943.2,594.6L971.8,600.4L1028.8,611.2L1057.4,616.8L1076.4,620.8L1105,627.1L1143,636L1173.5,643.5L1198.9,650.1L1229.4,658.7L1254.8,666.3L1275.1,672.8L1290.3,678.2L1305.6,684L1320.8,690.5L1341.1,700L1356.4,707.7L1366.5,713.3L1371.6,716.3L1376.7,719.5L1386.8,726.4L1397,734.1L1407.1,742.5L1417.3,751.8L1422.4,757L1427.5,762.5L1437.6,774.5L1445.9,785.2L1452.2,794.3L1458.6,804L1466.6,816.9L1472.9,827.9L1479.3,839.7L1485.6,852.6L1490.4,863.1L1495.2,874.6L1499.9,887.3L1504.7,901.2L1507.9,911.4L1511.1,922.5L1514.3,935L1519,956.9L1523.8,983.3L1525.4,993.4L1528.6,1016.1L1533.3,1056.5L1534.9,1072.4L1536.5,1092" stroke="#0072BD"/>
<path d="M1398.8,739.1L1408.9,748L1414,752.8L1419,758L1424.1,763.5L1429.1,769.3L1439.3,782L1444,788.4L1448.8,795.3L1455.1,805L1463.1,817.9L1469.4,828.9L1474.2,837.6L1480.5,850.2L1485.3,860.3L1490,871.4L1493.2,879.5L1496.4,888L1501.1,901.9L1504.3,912L1507.5,923.1L1512.2,942.3L1517,965.6L1521.7,993.6L1526.5,1028.9L1529.7,1056.6L1531.2,1072.4L1532.8,1092" stroke="#D95319"/>
<path d="M1154.4,640.8L1184.8,648.6L1210.1,655.6L1235.4,663L1260.7,670.9L1280.9,677.8L1296.1,683.5L1311.2,689.8L1326.4,696.7L1346.6,706.7L1361.8,715L1371.9,721.2L1382,728.2L1387.1,731.9L1397.2,740.1L1407.3,748.9L1412.4,753.8L1417.5,758.9L1427.6,770.3L1437.7,783L1447.2,796.3L1458.3,813.7L1464.6,824.3L1469.4,832.7L1477.3,847.9L1485.2,864.7L1489.9,876.2L1493.1,884.4L1499.4,902.6L1502.6,912.6L1505.8,923.7L1510.5,942.8L1515.3,966L1518.4,984L1521.6,1004.7L1526.4,1042.5L1529.5,1072.4L1531.1,1092" stroke="#EDB120" stroke-width="8.6"/>
<path d="M333.2,380.6L361.5,394.8L389.7,408.2L474.5,446.4L512.2,462.5L549.9,477.8L578.2,488.5L634.7,508.5L672.4,521.4L738.4,542.7L785.5,557.4L823.2,568.3L851.5,576L870.3,580.9L908,590.2L945.7,598.6L964.5,602.4L1039.9,616.9L1058.8,620.8L1077.6,624.9L1115.3,633.7L1144.2,640.7L1174.4,648.5L1199.5,655.4L1224.7,662.8L1249.8,670.7L1270,677.5L1285.1,683.1L1305.2,691.4L1320.3,698.2L1340.4,708.4L1355.5,716.6L1360.5,719.7L1370.6,726.3L1380.6,733.7L1390.7,741.9L1400.7,750.9L1405.8,755.7L1410.8,760.9L1420.9,772.4L1430.9,785.1L1435.6,791.6L1441.9,800.8L1449.8,813.2L1457.7,826.3L1464,837.5L1470.3,849.7L1476.6,862.9L1481.3,873.8L1486,885.9L1490.7,899.2L1493.9,908.8L1497,919.2L1500.2,930.8L1504.9,951L1508.1,966.8L1511.2,984.6L1512.8,994.4L1515.9,1016.8L1520.7,1056.7L1522.2,1072.5L1523.8,1092" stroke="#77AC30"/>
<path d="M1360,720.5L1365,723.8L1375.1,730.8L1385.1,738.7L1395.2,747.2L1405.2,756.7L1410.3,761.9L1415.3,767.5L1425.3,779.6L1433.5,790.4L1439.8,799.5L1446.1,809.1L1454,822L1460.3,832.8L1466.6,844.4L1472.9,857L1477.6,867.3L1482.3,878.5L1487,891L1491.7,904.6L1494.9,914.5L1498,925.4L1501.2,937.6L1505.9,959.1L1510.6,984.9L1512.2,994.7L1515.3,1017L1520.1,1056.7L1521.6,1072.5L1523.2,1092.1" stroke="#4DBEEE"/>
<path d="M1046.4,619.9L1074.6,626L1112.2,634.8L1151,644.4L1181,652.4L1211.1,661.1L1236.2,668.8L1261.2,677.2L1281.3,684.6L1301.3,692.9L1316.4,699.8L1336.4,710L1351.4,718.3L1361.5,724.6L1366.5,728.1L1376.5,735.6L1381.5,739.6L1391.5,748.2L1401.6,757.6L1411.6,768.5L1416.6,774.4L1426.6,787.2L1431.3,793.6L1437.6,802.9L1448.6,820.4L1454.9,831L1459.6,839.5L1464.3,848.4L1469,857.9L1473.7,868.1L1476.8,875.5L1481.5,887.4L1484.7,896.1L1490.9,915.1L1495.7,931.9L1500.4,951.9L1505.1,976.1L1508.2,995L1509.8,1005.6L1512.9,1029.6L1516,1056.8L1517.6,1072.5L1519.2,1092.1" stroke="#A2142F"/>
<path d="M1333.5,710.8L1343.5,716.3L1353.5,722.2L1358.5,725.5L1368.5,732.6L1378.5,740.5L1388.5,749.1L1398.5,758.6L1403.5,763.9L1408.5,769.5L1418.5,781.6L1426.6,792.5L1434.4,803.9L1442.2,816.2L1451.6,832L1459.4,846.3L1465.7,858.8L1470.4,868.9L1475.1,880.1L1479.8,892.4L1484.5,905.9L1487.6,915.8L1490.7,926.6L1493.9,938.7L1497,952.4L1500.1,968L1503.3,985.5L1504.8,995.3L1508,1017.4L1512.6,1056.8L1514.2,1072.5L1515.8,1092.1" stroke="#0072BD"/>
<path d="M232.9,143L235,217L236,236.4L237.1,249.9L239.2,270.3L240.3,278.7L241.3,285L242.4,290.2L244.5,298.2L246.6,304.1L248.7,309.1L251.8,315.4L253.9,319.2L257.1,324L261.3,329.7L265.5,334.8L269.7,339.4L275,344.5L280.2,349.1L286.5,354.1L291.8,358L304.3,366.2L323,377L341.7,387L369.7,400.9L397.7,414.1L472.4,447.9L509.8,464.1L547.2,479.4L575.2,490.1L621.9,506.9L659.3,520L715.3,538.5L771.4,556.4L808.7,567.6L836.7,575.4L855.4,580.4L892.8,589.8L930.2,598.5L958.2,604.4L1032.9,618.9L1060.9,624.9L1079.6,629.2L1117,638.2L1151.3,646.9L1181.2,655.1L1206.1,662.4L1231,670.2L1256,678.6L1275.9,686L1295.9,694.4L1310.8,701.4L1320.8,706.4L1340.7,717.1L1350.7,723.1L1355.7,726.3L1365.7,733.5L1370.6,737.4L1380.6,745.6L1390.6,754.7L1395.6,759.6L1400.6,764.8L1410.5,776.4L1415.5,782.7L1422.1,791.3L1428.3,800.2L1436.1,812.2L1443.9,825L1450.2,835.7L1456.4,847.3L1461.1,856.5L1465.8,866.3L1470.5,877.1L1475.1,888.9L1478.3,897.5L1484.5,916.4L1487.6,927.2L1490.7,939.2L1495.4,960.4L1500.1,985.8L1501.7,995.5L1504.8,1017.5L1509.5,1056.8L1511,1072.5L1512.6,1092.1" stroke="#D95319"/>
<path d="M1384.8,751L1394.8,760.6L1399.8,765.8L1409.7,777.4L1414.7,783.7L1421.3,792.4L1425.9,799L1432.2,808.4L1438.4,818.3L1446.2,831.3L1452.4,842.4L1457.1,851.2L1461.8,860.6L1466.5,870.6L1471.2,881.7L1474.3,889.7L1479,902.7L1482.1,912L1485.2,922.3L1488.3,933.6L1493,953.4L1497.7,977.2L1500.8,995.8L1502.4,1006.3L1505.5,1029.9L1508.6,1056.9L1510.2,1072.5L1511.7,1092.1" stroke="#EDB120"/>
<path d="M1163.8,652.1L1188.7,659.2L1213.5,666.8L1238.4,674.9L1258.3,681.9L1278.2,689.6L1293.1,696L1308,703L1323,710.6L1337.9,718.8L1347.8,724.8L1357.8,731.6L1362.7,735.3L1372.7,743.2L1382.6,752L1392.6,761.5L1402.5,772.5L1412.5,784.7L1422.1,797.8L1431.5,811.8L1443.9,832.3L1453.3,849.1L1461,864.7L1467.3,878.7L1473.5,894.6L1479.7,912.7L1484.4,928.4L1489.1,946.8L1493.7,969.2L1496.8,986.5L1500,1006.5L1504.6,1043.1L1507.7,1072.5L1509.3,1092.2" stroke="#7E2F8E" stroke-width="8.6"/>
<path d="M350,393.3L368.5,402.5L387.1,411.4L461.2,445.3L489,457.7L526,473.4L553.8,484.6L572.3,491.7L590.9,498.6L646.5,518.5L683.5,531.1L748.4,552.4L785.4,564L804,569.5L822.5,574.7L859.5,584.7L896.6,594L933.6,602.4L961.4,608.2L1026.3,621L1044.8,624.9L1063.3,629.1L1091.1,635.7L1123.9,644L1148.6,650.6L1173.3,657.5L1203,666.6L1227.7,674.6L1247.5,681.5L1267.3,689L1287.1,697.5L1301.9,704.6L1321.7,714.9L1336.5,723.4L1341.5,726.5L1351.3,733.3L1361.2,741L1371.1,749.4L1381,758.5L1386,763.5L1390.9,768.8L1400.8,780.4L1410.7,793.3L1415.3,799.9L1423.1,811.5L1430.8,823.9L1438.5,837L1444.7,848.1L1450.9,860.1L1457.1,873.1L1461.8,884L1466.4,896.1L1471.1,909.3L1474.1,918.9L1477.2,929.5L1480.3,941.4L1485,962.1L1489.6,987.1L1492.7,1007L1494.3,1018.2L1498.9,1057L1500.5,1072.6L1502,1092.2" stroke="#4DBEEE"/>
<path d="M1281.4,696.1L1296.3,702.9L1311.1,710.4L1325.9,718.4L1335.8,724.2L1345.7,730.7L1355.6,737.9L1365.5,746L1375.3,754.8L1385.2,764.4L1390.2,769.8L1400,781.4L1409.9,794.4L1416.1,803.1L1423.9,814.9L1433.1,830L1440.9,843.4L1447.1,854.9L1453.2,867.3L1457.9,877.5L1462.5,888.7L1467.2,901L1471.8,914.6L1476.4,930.1L1479.5,941.9L1482.6,955.2L1485.7,970.3L1488.8,987.4L1491.9,1007.2L1495,1030.4L1498.1,1057L1499.7,1072.6L1501.2,1092.2" stroke="#A2142F"/>
<path d="M1170.3,658.8L1194.9,666.3L1219.6,674.3L1239.3,681.2L1259,688.6L1278.7,696.8L1293.5,703.7L1308.3,711.2L1323.1,719.3L1332.9,725L1337.9,728.2L1347.7,735.1L1357.6,742.8L1367.4,751.2L1377.3,760.4L1382.2,765.4L1387.2,770.7L1392.1,776.4L1401.9,788.8L1411.5,801.9L1420.8,816L1433.1,836.3L1442.4,852.9L1450.1,868.2L1456.2,881.9L1462.4,897.5L1468.6,915.3L1473.2,930.7L1477.8,948.9L1482.5,970.7L1485.6,987.7L1488.6,1007.4L1493.3,1043.4L1496.4,1072.6L1497.9,1092.2" stroke="#0072BD"/>
<path d="M1261.2,691.3L1275.9,697.6L1290.7,704.5L1305.4,712L1320.2,720.1L1330,725.9L1339.8,732.4L1349.7,739.7L1359.5,747.8L1369.3,756.7L1379.2,766.4L1384.1,771.7L1393.9,783.5L1403.7,796.4L1411.4,807.5L1420.7,821.9L1429.9,837.3L1437.6,850.9L1443.8,862.8L1449.9,875.6L1454.5,886.4L1460.7,902.4L1465.3,915.9L1469.9,931.3L1473,943L1476.1,956.2L1479.1,971.1L1482.2,988L1485.3,1007.7L1488.4,1030.7L1491.5,1057.1L1493,1072.6L1494.5,1092.2" stroke="#D95319"/>
<path d="M270.1,343.1L277.3,350L285.6,356.9L293.9,363.1L303.1,369.2L312.3,374.8L330.7,385.2L349,394.8L376.6,408.6L395,417.2L459.3,446.9L477.7,455.2L505.2,467.2L532.8,478.8L560.4,489.8L578.7,496.8L615.5,510.3L643,520.2L670.6,529.8L744.1,554.3L762.5,560.2L790.1,568.6L808.4,574L836,581.7L863.6,589L881.9,593.6L918.7,602.3L946.3,608.3L1019.8,623L1038.1,626.9L1056.5,631.2L1084.1,637.9L1116.5,646.2L1146,654.3L1170.5,661.5L1195,669.2L1219.5,677.4L1239.1,684.4L1258.8,692L1278.4,700.6L1293.1,707.7L1302.9,712.8L1312.7,718.1L1327.4,726.7L1332.3,729.9L1342.1,736.8L1351.9,744.6L1361.8,753.1L1371.6,762.3L1376.5,767.3L1381.4,772.7L1391.2,784.5L1401,797.5L1405.6,804L1413.3,815.6L1420.9,828L1428.6,840.9L1434.8,851.9L1440.9,863.7L1447,876.5L1451.7,887.2L1456.3,899L1460.9,911.9L1463.9,921.4L1467,931.9L1470.1,943.5L1474.7,963.9L1479.3,988.4L1482.4,1007.9L1483.9,1018.9L1488.5,1057.1L1490,1072.6L1491.6,1092.3" stroke="#EDB120"/>
<path d="M1238.5,685.1L1253.2,690.8L1267.9,697L1282.6,703.7L1297.3,711L1312,718.9L1326.7,727.5L1336.5,734.1L1346.3,741.5L1356.1,749.6L1365.9,758.6L1375.7,768.3L1380.6,773.7L1390.4,785.5L1400.2,798.5L1407.9,809.6L1417.1,824L1426.3,839.3L1433.9,852.8L1440.1,864.5L1446.2,877.3L1452.3,891.7L1456.9,903.9L1461.6,917.2L1466.2,932.4L1470.8,950.4L1473.8,964.3L1476.9,980L1480,998L1483,1019.1L1486.1,1043.6L1489.2,1072.6L1490.7,1092.3" stroke="#7E2F8E"/>
<path d="M1016.8,624L1044.2,630L1080.8,639L1118.1,648.7L1147.4,656.9L1171.8,664.2L1201.1,673.7L1225.6,682.2L1250,691.5L1269.5,699.9L1289.1,709.3L1298.8,714.4L1308.6,719.8L1323.3,728.4L1333,734.9L1342.8,742.3L1352.6,750.5L1362.3,759.5L1367.2,764.3L1372.1,769.3L1377,774.7L1381.9,780.4L1391.7,792.9L1398.1,801.7L1402.7,808.3L1408.8,817.7L1414.9,827.5L1427.1,848.3L1433.3,859.5L1437.8,868.5L1442.4,878.1L1445.5,885.1L1450.1,896.4L1453.1,904.6L1459.3,922.7L1463.8,938.6L1468.4,957.6L1473,980.4L1476.1,998.2L1477.6,1008.3L1480.7,1031L1483.7,1057.2L1485.3,1072.6L1486.8,1092.3" stroke="#77AC30"/>
<path d="M1369.4,770.2L1379.2,781.4L1384,787.5L1393.8,800.5L1404.5,816.3L1410.6,826L1418.2,838.7L1428.9,857.6L1433.5,866.3L1438,875.7L1442.6,885.9L1445.7,893.3L1451.8,909.5L1454.8,918.5L1457.9,928.3L1462.4,945.1L1467,965.2L1471.6,989.3L1474.6,1008.5L1476.2,1019.4L1479.2,1043.8L1482.3,1072.6L1483.8,1092.3" stroke="#4DBEEE"/>
<path d="M357.2,401L384.6,414.5L457.5,448.4L494,464.8L521.4,476.5L557.8,491.4L585.2,501.9L630.8,518.7L676.3,534.7L731.1,553.1L767.5,564.9L804,575.9L822.2,581L849.6,588.4L886,597.7L922.5,606.3L949.9,612.1L1013.7,625L1031.9,629L1050.2,633.2L1077.5,640L1104.9,647.2L1129.2,653.9L1153.5,661L1182.7,670.2L1207.1,678.4L1231.4,687.3L1250.9,695L1270.3,703.7L1284.9,710.9L1294.7,716L1304.4,721.4L1319,730.1L1323.9,733.3L1333.6,740.3L1343.3,748.1L1353.1,756.8L1362.8,766.2L1367.7,771.2L1372.5,776.6L1382.3,788.5L1392,801.6L1398.1,810.4L1405.7,822.2L1413.3,834.6L1420.9,847.5L1428.6,861.3L1434.6,873.4L1439.2,883.2L1443.8,894L1446.8,901.9L1451.4,914.6L1454.4,923.9L1457.5,934.2L1460.5,945.6L1465.1,965.6L1469.7,989.6L1472.7,1008.8L1474.3,1019.6L1478.8,1057.3L1480.3,1072.7L1481.9,1092.3" stroke="#A2142F"/>
<path d="M1361.4,767.1L1366.2,772.2L1371.1,777.6L1375.9,783.4L1385.7,795.9L1396.6,811.4L1408.8,830.6L1420.9,851.2L1427,862.3L1431.6,871.1L1436.2,880.6L1439.2,887.5L1443.8,898.6L1446.8,906.7L1452.9,924.6L1457.5,940.3L1462,959L1466.6,981.5L1469.6,999.1L1471.2,1009L1474.2,1031.4L1477.2,1057.3L1478.8,1072.7L1480.3,1092.4" stroke="#0072BD"/>
<path d="M1047.6,634.3L1074.9,641.1L1107,649.6L1136.1,657.8L1160.4,665.2L1189.5,674.7L1213.8,683.3L1233.2,690.6L1252.6,698.6L1272,707.6L1286.5,715L1296.2,720.3L1305.9,725.8L1315.7,731.7L1320.5,734.9L1330.2,742L1339.9,749.9L1344.8,754.2L1354.5,763.3L1364.2,773.1L1373.9,784.4L1378.7,790.5L1388.4,803.6L1399.1,819.4L1412.7,841.7L1423.4,860.4L1427.9,869L1432.5,878.2L1437,888.3L1440.1,895.6L1446.1,911.6L1449.2,920.5L1452.2,930.1L1456.8,946.7L1461.3,966.5L1465.9,990.2L1468.9,1009.2L1470.4,1019.9L1473.5,1044L1476.5,1072.7L1478,1092.4" stroke="#D95319" stroke-width="8.6"/>
<path d="M232.8,143L234.9,222.3L235.9,242L236.9,255.3L238.9,274.3L241,288.1L242,293.2L244,301.2L247.1,310.1L249.1,315.1L252.2,321.5L254.2,325.3L257.3,330.2L261.3,336L265.4,341.2L269.5,345.7L273.5,349.9L283.7,358.9L292.9,366L301.9,372.2L310.9,377.8L329,388.3L338.1,393.2L356.1,402.6L383.2,416.1L455.5,450L491.7,466.3L527.8,481.9L545.9,489.4L564,496.6L609.2,513.7L645.3,526.9L708.6,548.9L753.8,563.9L789.9,575.1L826.1,585.4L853.2,592.7L871.3,597.4L907.4,606.1L934.5,612.2L1006.8,627L1024.9,631L1043,635.3L1070.1,642.2L1102,650.7L1131,659L1155.1,666.5L1184,676L1208.1,684.6L1232.3,694L1251.5,702.2L1266,709.1L1275.7,714L1285.3,719.2L1295,724.6L1309.4,733.4L1314.3,736.6L1323.9,743.8L1328.7,747.6L1338.4,756L1348,765.1L1352.8,770L1357.7,775.1L1362.5,780.5L1367.3,786.4L1377,799L1384.8,810L1392.4,821.5L1399.9,833.6L1409,848.8L1415,859.5L1421,870.8L1427.1,883.1L1431.6,893.4L1436.2,904.8L1439.2,913L1442.2,921.7L1445.2,931.3L1448.2,942L1451.3,953.9L1455.8,974.7L1460.3,999.9L1464.8,1031.8L1467.9,1057.4L1469.4,1072.7L1470.9,1092.4" stroke="#7E2F8E"/>
<path d="M1289.7,722.7L1299.3,728.3L1308.9,734.2L1318.6,740.9L1328.2,748.5L1337.9,756.9L1347.5,766.1L1357.2,776L1362,781.5L1366.8,787.4L1376.4,800L1384.3,811.1L1391.8,822.5L1400.9,837.1L1409.9,852.4L1417.5,865.9L1423.5,877.7L1428.1,887.3L1432.6,897.8L1437.1,909.5L1441.6,922.4L1444.7,931.9L1447.7,942.5L1450.7,954.4L1453.7,967.8L1458.2,991.2L1461.3,1009.9L1462.8,1020.5L1467.3,1057.5L1468.8,1072.7L1470.3,1092.4" stroke="#77AC30"/>
<path d="M1032,634.1L1068,643.2L1095.1,650.5L1119.1,657.3L1143.2,664.6L1172.1,674.1L1196.1,682.5L1220.2,691.6L1239.4,699.5L1258.7,708.3L1273.1,715.6L1282.7,720.8L1292.4,726.2L1306.8,735.1L1316.4,741.8L1326.1,749.4L1335.7,757.8L1340.5,762.3L1350.1,771.9L1354.9,777L1359.7,782.5L1364.5,788.3L1374.2,801L1385,816.6L1395.6,833.2L1409.1,856L1415.1,866.9L1419.7,875.5L1424.2,884.8L1427.2,891.5L1431.7,902.3L1434.7,910.2L1440.7,927.7L1443.8,937.7L1446.8,948.8L1451.3,968.2L1455.8,991.5L1458.8,1010.1L1460.3,1020.6L1463.3,1044.3L1466.4,1072.7L1467.9,1092.5" stroke="#4DBEEE"/>
<path d="M1179,678L1198.2,684.9L1217.4,692.3L1231.8,698.2L1246.2,704.5L1260.6,711.4L1275,718.9L1289.4,727L1303.8,735.9L1313.4,742.7L1323,750.3L1332.6,758.7L1337.4,763.2L1347,772.8L1351.8,778L1361.4,789.3L1371,802L1377.3,810.9L1387.8,826.9L1398.3,844.1L1408.8,862.3L1416.3,876.4L1422.3,888.9L1428.3,903.1L1434.4,919.2L1438.9,933.1L1443.4,949.3L1446.4,961.8L1450.9,983.6L1453.9,1000.7L1456.9,1020.8L1459.9,1044.4L1462.9,1072.7L1464.4,1092.5" stroke="#A2142F"/>
<path d="M278.3,355.9L285.4,362L292.5,367.4L301.4,373.6L310.4,379.3L319.4,384.7L328.4,389.9L346.3,399.5L364.3,408.8L382.2,417.7L463,455.7L490,467.9L507.9,475.7L534.8,487.2L561.8,498.2L588.7,508.6L615.6,518.8L642.6,528.6L669.5,538.2L705.4,550.7L732.3,559.9L750.3,565.8L777.2,574.3L813.1,584.8L858,596.9L885,603.7L902.9,608L929.8,614.1L1001.7,629L1019.6,633L1037.6,637.4L1064.5,644.3L1091.4,651.6L1115.4,658.5L1139.4,665.8L1163.3,673.7L1187.3,682.1L1211.2,691.1L1230.4,698.9L1249.6,707.5L1263.9,714.6L1273.5,719.7L1283.1,725.1L1297.5,733.7L1307.1,740L1311.9,743.5L1321.4,751.2L1331,759.6L1335.8,764.2L1345.4,773.8L1350.2,778.9L1359.8,790.3L1369.4,803L1375.6,811.9L1383.1,823.2L1390.6,835.2L1401.1,852.8L1408.6,865.9L1414.6,877.3L1420.6,889.7L1425.1,900.1L1428.1,907.6L1432.6,919.9L1435.6,928.9L1438.6,938.8L1441.6,949.9L1444.6,962.3L1447.6,976.3L1452.1,1000.9L1455.1,1021L1456.6,1032.3L1459.6,1057.6L1461.1,1072.8L1462.6,1092.5" stroke="#0072BD"/>
<path d="M1347.7,779.9L1357.3,791.3L1362,797.5L1371.6,810.8L1382.1,826.6L1395.5,848.7L1406,866.9L1410.5,875.2L1415,884.2L1419.5,893.9L1422.5,900.9L1428.5,916.4L1431.5,925L1434.5,934.3L1439,950.4L1443.4,969.5L1447.9,992.4L1450.9,1010.8L1452.4,1021.2L1455.4,1044.5L1458.4,1072.8L1459.9,1092.5" stroke="#D95319"/>
<path d="M1150,671.7L1173.9,680L1193,687L1212.1,694.4L1231.2,702.4L1245.5,709L1259.8,716.2L1274.1,723.9L1288.4,732.3L1298,738.4L1307.5,745.2L1317.1,752.9L1326.6,761.4L1336.2,770.7L1345.7,780.8L1355.3,792.3L1364.8,805L1375.6,820.7L1386,837.2L1399.5,859.9L1408.4,876.1L1414.4,888.1L1420.4,901.6L1426.3,917L1430.8,930.2L1435.3,945.3L1439.8,963.2L1444.3,984.6L1447.3,1001.5L1450.3,1021.3L1453.2,1044.6L1456.2,1072.8L1457.7,1092.5" stroke="#EDB120" stroke-width="8.6"/>
<path d="M256.8,332.5L262.8,341.2L268.8,348.4L272.9,352.5L276.9,356.3L286.9,365L291.9,368.9L300.8,375.1L309.7,380.9L318.6,386.3L336.3,396.3L363,410.3L380.8,419.3L443,448.9L469.7,461.3L496.4,473.3L523.1,485L549.7,496.2L576.4,506.8L612,520.5L638.7,530.4L674.2,543.1L709.8,555.6L736.5,564.7L754.3,570.5L780.9,578.8L798.7,584.1L825.4,591.6L852.1,598.8L878.8,605.6L896.5,609.9L923.2,616L994.4,631L1012.1,635.1L1029.9,639.4L1056.6,646.4L1083.3,653.8L1107,660.8L1130.7,668.3L1154.5,676.2L1178.2,684.8L1201.9,693.9L1220.9,701.8L1239.9,710.5L1254.1,717.7L1263.6,722.8L1273.1,728.3L1287.4,737L1296.9,743.4L1301.6,746.9L1311.1,754.7L1320.6,763.2L1325.3,767.8L1334.8,777.5L1339.6,782.8L1349.1,794.3L1358.6,807L1364.8,816L1372.2,827.3L1379.7,839.3L1390.1,856.7L1397.5,869.6L1403.4,880.8L1409.4,893L1413.8,903.1L1416.8,910.5L1421.3,922.5L1424.2,931.4L1427.2,941.1L1430.2,952L1433.1,964.1L1436.1,977.8L1440.6,1002L1443.5,1021.7L1445,1032.8L1448,1057.7L1449.5,1072.8L1451,1092.6" stroke="#77AC30"/>
<path d="M1134.2,670.4L1157.9,678.5L1181.6,687.2L1200.5,694.6L1219.5,702.5L1233.7,709L1247.9,716L1262.1,723.6L1276.4,731.9L1285.8,737.8L1295.3,744.2L1304.8,751.5L1314.3,759.7L1323.7,768.7L1333.2,778.5L1338,783.7L1342.7,789.3L1352.2,801.5L1361.7,814.9L1372,830.7L1385.4,852.6L1397.3,873.3L1404.7,887.5L1410.6,900.4L1416.6,915.1L1421,927.5L1425.5,941.7L1429.9,958.4L1434.4,978.2L1438.8,1002.3L1441.8,1021.8L1444.7,1044.8L1447.7,1072.8L1449.2,1092.6" stroke="#4DBEEE"/>
<path d="M1036.5,642.7L1063.1,649.9L1090.3,657.7L1114,664.9L1137.6,672.6L1166,682.6L1189.7,691.6L1208.6,699.2L1227.6,707.5L1246.5,716.8L1260.7,724.4L1274.9,732.7L1289.1,741.7L1298.5,748.6L1308,756.4L1317.5,765L1322.2,769.7L1331.7,779.4L1336.4,784.7L1341.1,790.3L1345.9,796.2L1355.3,809L1366,824.8L1379.3,846.2L1392.7,868.9L1401.6,885.4L1406,894.6L1409,901.2L1413.4,912L1416.4,919.8L1419.3,928.2L1422.3,937.3L1426.7,953L1431.2,971.7L1435.6,994L1438.6,1011.9L1440.1,1022L1443,1044.9L1446,1072.8L1447.5,1092.6" stroke="#A2142F"/>
<path d="M1305.4,757.3L1310.1,761.5L1319.5,770.6L1329,780.4L1333.7,785.6L1343.1,797.2L1347.9,803.5L1357.3,816.9L1364.7,828.1L1372.1,839.9L1381,854.6L1389.8,869.8L1395.7,880.5L1400.2,889.2L1404.6,898.6L1407.6,905.4L1412,916.5L1414.9,924.5L1417.9,933.3L1420.9,942.9L1423.8,953.5L1426.8,965.5L1431.2,986.4L1434.2,1002.8L1435.6,1012.1L1438.6,1033.1L1441.5,1057.8L1443,1072.8L1444.5,1092.6" stroke="#0072BD"/>
<path d="M388.4,425.1L450.2,454.6L476.7,466.9L512,482.7L538.4,494.1L573.7,508.5L609,522.2L644.3,535.3L697.2,554.4L732.5,566.6L767.8,578L803.1,588.5L838.4,598.3L873.7,607.5L900.1,613.9L926.6,619.9L988.3,633L1014.8,639.2L1041.3,646.1L1067.7,653.5L1090.7,660.2L1109.5,666.1L1133.1,673.8L1161.3,683.9L1184.9,692.9L1208.4,702.7L1227.3,711.3L1241.4,718.3L1250.8,723.3L1260.2,728.7L1274.3,737.2L1283.8,743.3L1288.5,746.7L1293.2,750.3L1302.6,758.1L1312,766.8L1321.4,776.3L1330.9,786.6L1335.6,792.2L1340.3,798.2L1349.7,811.1L1357.4,822.3L1366.2,836.1L1378,855.6L1388.3,873.3L1394.2,884.2L1400.1,896.2L1404.5,906.2L1407.5,913.4L1411.9,925.2L1414.8,933.9L1417.8,943.4L1420.7,954.1L1423.7,966L1426.6,979.4L1431.1,1003.1L1434,1022.3L1435.5,1033.2L1438.4,1057.9L1439.9,1072.8L1441.4,1092.7" stroke="#D95319"/>
<path d="M1125.9,672.8L1149.4,681.1L1168.1,688.1L1186.9,695.5L1205.7,703.4L1224.5,712L1238.6,719.1L1252.7,726.7L1266.8,735.1L1276.1,741L1285.5,747.5L1294.9,755L1304.3,763.3L1313.7,772.4L1323.1,782.2L1327.8,787.5L1332.5,793.2L1341.9,805.5L1352.8,821.1L1363,837.1L1377.7,861.6L1388,879.6L1393.9,890.9L1399.8,903.5L1405.7,917.9L1410.1,930.1L1414.5,944L1418.9,960.4L1423.3,979.8L1427.7,1003.4L1430.7,1022.5L1432.1,1033.4L1435.1,1057.9L1436.5,1072.9L1438,1092.7" stroke="#EDB120"/>
<path d="M651,539.4L703.7,558.4L738.8,570.4L773.9,581.6L809.1,591.9L853,603.9L896.8,614.9L923.2,620.8L984.6,634L1011,640.2L1037.3,647.2L1063.6,654.6L1086.5,661.3L1109.9,668.8L1138,678.3L1161.5,687L1184.9,696.2L1208.3,706.2L1227.1,715L1245.8,724.9L1255.2,730.2L1264.6,735.9L1278.6,745L1283.3,748.4L1292.7,755.8L1297.4,759.9L1306.7,768.6L1311.4,773.3L1320.8,783.2L1325.5,788.5L1334.8,800.1L1344.2,813.1L1350.4,822.1L1357.7,833.5L1366.5,847.8L1378.2,867.5L1384.1,877.8L1390,888.8L1395.8,901L1400.2,911.2L1403.2,918.6L1407.6,930.7L1410.5,939.7L1413.4,949.7L1416.4,960.9L1420.8,980.2L1425.2,1003.6L1428.1,1022.7L1429.6,1033.5L1432.5,1057.9L1434,1072.9L1435.4,1092.7" stroke="#7E2F8E"/>
<path d="M1292.2,756.7L1296.9,760.8L1306.3,769.5L1311,774.2L1320.4,784.1L1329.7,795.1L1334.4,801.1L1343.8,814.1L1351.4,825.3L1358.7,836.8L1367.5,851.2L1379.3,871L1385.1,881.4L1389.5,889.7L1393.9,898.6L1398.3,908.4L1402.7,919.3L1405.6,927.1L1408.6,935.7L1411.5,945.2L1414.4,955.6L1417.4,967.4L1421.8,987.8L1426.2,1013L1429.1,1033.6L1432,1058L1433.5,1072.9L1435,1092.7" stroke="#77AC30"/>
<path d="M232.8,143L234.7,227.4L235.7,247.6L236.7,260.6L238.7,278.3L240.7,291.2L241.7,296.2L243.6,304.2L245.6,310.6L247.6,316.3L249.5,321.2L252.5,327.7L255.5,333.2L258.4,338L261.4,342.4L265.3,347.5L269.3,352.1L273.2,356.2L283.1,365.3L291,371.7L299.8,378L308.5,383.9L317.3,389.3L326,394.5L334.8,399.4L352.3,408.8L378.6,422.4L448.7,456.1L483.8,472.4L518.8,488.1L553.9,503L588.9,517L632.7,533.8L685.3,553L729.1,568.4L764.1,579.8L799.2,590.3L825.5,597.7L851.8,604.8L895.6,615.8L921.9,621.8L983.2,635L1009.5,641.2L1035.8,648.2L1062.1,655.6L1089.5,663.9L1112.9,671.5L1141,681.3L1169,691.9L1192.4,701.5L1206.5,707.6L1215.8,712L1234.5,721.4L1243.9,726.4L1253.2,731.8L1262.6,737.5L1271.9,743.5L1281.3,750L1286,753.7L1290.6,757.5L1300,765.9L1304.7,770.4L1314,780L1323.4,790.4L1328.1,796.1L1337.4,808.4L1346.8,821.9L1354.1,833.2L1364.3,849.8L1376.1,869.4L1381.9,879.6L1387.8,890.5L1392.2,899.4L1396.6,909.2L1400.9,920L1403.9,927.8L1406.8,936.3L1409.7,945.7L1412.7,956.2L1415.6,967.9L1420,988.1L1424.4,1013.2L1427.3,1033.7L1430.2,1058L1431.7,1072.9L1433.2,1092.7" stroke="#4DBEEE"/>
<path d="M1309.9,780.9L1319.3,791.3L1323.9,797L1333.2,809.4L1344,825.1L1355.7,843.6L1373.2,872.9L1381.9,888.6L1386.3,897.2L1390.7,906.6L1395.1,916.9L1398,924.5L1400.9,932.6L1403.8,941.5L1408.2,956.7L1412.6,974.6L1416.9,996.1L1419.9,1013.4L1421.3,1023.2L1424.2,1045.4L1425.7,1058L1427.2,1072.9L1428.6,1092.7" stroke="#A2142F"/>
<path d="M1130.9,680.8L1149.5,687.8L1172.7,697L1191.3,704.9L1205.3,711.2L1219.2,718L1233.2,725.4L1247.1,733.4L1261.1,742L1270.4,748.3L1279.7,755.3L1289,763.3L1298.3,772.2L1307.5,781.8L1316.8,792.3L1321.5,798L1330.8,810.4L1340.1,823.9L1350.3,839.9L1367.7,868.8L1376.5,884L1382.3,895L1388.1,907.3L1393.9,921.3L1398.3,933.2L1401.2,942.1L1404.1,951.9L1408.5,968.8L1412.9,988.8L1415.8,1004.7L1418.7,1023.4L1420.1,1034L1423,1058.1L1424.5,1072.9L1426,1092.8" stroke="#0072BD"/>
<path d="M1190.4,705.6L1204.3,712L1218.2,718.8L1232.2,726.1L1241.5,731.4L1255.4,739.9L1269.3,749.1L1274,752.5L1283.3,760.1L1292.6,768.5L1301.8,777.8L1311.1,787.8L1320.4,798.9L1325.1,805L1334.4,818L1344.8,833.9L1355,850.3L1373.9,882.3L1379.7,893L1384.1,901.8L1389.9,914.8L1394.3,925.8L1398.6,938.2L1403,952.4L1407.3,969.2L1410.2,982.1L1413.2,996.8L1416.1,1013.8L1419,1034.1L1421.9,1058.1L1423.3,1072.9L1424.8,1092.8" stroke="#D95319"/>
<path d="M272.8,357.5L281.6,365.8L288.5,371.6L299.1,379.5L307.8,385.3L316.4,390.8L333.8,400.9L368.5,419.5L394.5,432.5L437.9,453.5L464,465.9L490,477.9L516,489.6L542.1,500.9L568.1,511.7L594.1,522.1L620.2,532.2L646.2,542L680.9,554.8L707,564.2L741.7,576.1L759,581.6L785.1,589.6L828.4,602L854.5,608.9L880.5,615.6L906.5,621.8L976,636.9L1002,643.2L1028,650.3L1054.1,657.8L1076.6,664.7L1095.2,670.7L1118.3,678.7L1141.5,687.3L1164.7,696.5L1187.8,706.3L1206.3,714.9L1220.2,721.9L1229.5,726.9L1238.8,732.2L1252.7,740.6L1261.9,746.7L1271.2,753.3L1275.8,757L1285.1,765.1L1294.3,774L1303.6,783.7L1312.9,794.1L1317.5,799.9L1322.1,806L1331.4,819L1338.9,830.4L1346.2,841.9L1356.3,858.6L1369.4,880.7L1375.2,891.1L1381,902.6L1385.3,912.2L1388.2,919.1L1392.6,930.4L1395.5,938.8L1398.4,948L1401.3,958.2L1404.2,969.7L1407.1,982.5L1411.4,1005.2L1414.3,1023.7L1415.8,1034.2L1418.7,1058.1L1420.1,1072.9L1421.6,1092.8" stroke="#EDB120"/>
<path d="M1078.2,667.3L1101.3,675L1124.3,683.3L1142.8,690.4L1165.9,699.7L1184.3,707.7L1202.8,716.4L1216.7,723.4L1230.5,731L1244.3,739.3L1253.6,745.2L1262.8,751.5L1272,758.7L1281.3,766.8L1285.9,771.2L1295.1,780.5L1304.3,790.6L1313.6,801.8L1322.8,814.3L1327.4,821L1336.4,834.7L1349.4,855.7L1366.7,885L1373.9,898.4L1379.7,910.4L1385.5,924.1L1389.8,935.7L1392.7,944.4L1395.6,954.1L1399.9,970.6L1404.3,990.2L1407.2,1005.7L1410,1024L1411.5,1034.4L1414.4,1058.2L1415.8,1073L1417.3,1092.8" stroke="#77AC30"/>
<path d="M1237.1,737.2L1251,746L1260.2,752.3L1264.8,755.8L1274,763.5L1278.6,767.6L1287.8,776.6L1297,786.4L1306.2,797L1310.8,802.7L1320,815.3L1329.2,828.9L1335,837.9L1345.1,854.3L1360.9,880.9L1366.7,891L1372.4,902L1376.8,911.1L1381.1,921.2L1385.4,932.3L1388.3,940.6L1391.2,949.7L1394.1,959.8L1396.9,971.1L1399.8,983.7L1404.1,1006L1407,1024.2L1408.5,1034.6L1411.4,1058.2L1412.8,1073L1414.2,1092.9" stroke="#4DBEEE"/>
<path d="M232.7,143L233.7,181.1L234.7,230L235.7,250.4L236.6,263.2L238.6,280.2L240.5,292.7L241.5,297.7L243.4,305.7L247.3,318L249.2,323.2L252.1,329.8L254.1,333.7L257,338.8L259.9,343.4L263.8,348.8L267.7,353.6L271.5,357.8L281.2,367.1L290,374.5L298.6,380.9L307.2,386.8L315.8,392.3L324.4,397.5L333,402.4L350.3,411.8L376.1,425.5L393.3,434L436.4,455L479.5,475.4L522.6,494.9L557,509.8L591.5,523.8L625.9,537.2L677.6,556.6L703.5,566L720.7,572L755.1,583.5L789.6,594L832.7,606.1L858.5,613L884.4,619.6L910.2,625.6L970.5,638.9L996.3,645.2L1022.2,652.3L1048,659.9L1070.4,666.9L1093.4,674.6L1121,684.5L1144,693.5L1171.6,705.1L1194.6,715.6L1213,724.9L1222.2,729.9L1231.4,735.2L1240.6,740.9L1249.8,746.8L1259,753.2L1263.6,756.6L1268.2,760.3L1277.4,768.5L1282,772.9L1291.2,782.3L1300.3,792.5L1304.9,797.9L1314.1,809.8L1323.3,823L1332.3,836.7L1342.3,852.9L1356.7,877L1362.5,886.8L1368.2,897.2L1372.6,905.8L1376.9,915.1L1381.2,925.4L1384.1,933L1386.9,941.2L1389.8,950.3L1392.7,960.3L1395.6,971.5L1399.9,990.9L1404.2,1014.9L1407.1,1034.7L1408.5,1046L1410,1058.3L1411.4,1073L1412.9,1092.9" stroke="#008000" stroke-width="20"/>
<path d="M232.7,143L233.7,181.1L234.7,230L235.7,250.4L236.6,263.2L237.6,272.4L239.5,287L241.5,297.7L243.4,305.7L247.3,318L251.2,327.7L255.1,335.4L259.9,343.4L264.8,350.1L270.6,356.8L278.3,364.4" stroke="#A2142F" stroke-width="4.5"/>
<path d="M272,354.2L280.8,362.6L288.7,369.2L299.4,377L308.1,382.8L316.8,388.2L334.2,398.3L369.1,416.8L395.2,429.8L447.5,455L473.6,467.3L491.1,475.3L517.2,486.9L543.3,498.2L569.5,508.9L595.6,519.2L621.7,529.3L647.9,539L682.7,551.7L708.9,561L743.7,572.9L761.2,578.5L787.3,586.4L813.4,594L839.6,601.1L883.1,612.3L909.3,618.5L979,633.5L1005.1,639.8L1031.3,646.7L1057.4,654.1L1080.1,660.8L1103.3,668.2L1126.6,676.1L1149.8,684.6L1173.1,693.7L1196.3,703.5L1214.9,712.1L1228.9,719.1L1238.2,724.2L1247.5,729.5L1261.4,738.1L1270.7,744.2L1275.4,747.6L1280,751.2L1289.3,759.1L1298.7,767.8L1308,777.3L1317.3,787.6L1321.9,793.3L1326.6,799.2L1335.9,812.1L1343.4,823.4L1352.2,837.2L1362.3,854.2L1374,874.3L1379.8,885.2L1385.6,897.1L1390,907L1392.9,914.2L1397.3,925.9L1400.2,934.5L1403.1,944.1L1406,954.6L1408.9,966.5L1411.8,979.8L1416.2,1003.4L1419.1,1022.5L1420.6,1033.4L1423.5,1057.9L1424.9,1072.9L1426.4,1092.7" stroke="#4DBEEE" stroke-width="3.5"/>
</g>
<rect x="531.6" y="52.8" width="1458.4" height="88.3" fill="#fff" stroke="#3f3f3f" stroke-width="5.2" stroke-linejoin="round"/>
<path d="M550.5,99.4H760" stroke="#0000ff" stroke-width="22"/>
<path d="M1005,99.4H1215" stroke="#ff0000" stroke-width="22"/>
<path d="M1495,99.4H1704" stroke="#008000" stroke-width="22"/>
<g font-size="61" letter-spacing="1.1" fill="#2e2e2e">
<text x="770.5" y="117.5">Cycle 1</text>
<text x="1226" y="117.5">Cycle 72</text>
<text x="1713.5" y="117.5">Cycle 168</text>
</g>
<g font-size="69" fill="#3a3a3a" text-anchor="middle">
<text transform="translate(228.5,1161) scale(0.958,1)">0</text>
<text transform="translate(481.2,1161) scale(0.958,1)">500</text>
<text transform="translate(742.8,1161) scale(0.958,1)">1000</text>
<text transform="translate(994.5,1161) scale(0.958,1)">1500</text>
<text transform="translate(1248.0,1161) scale(0.958,1)">2000</text>
<text transform="translate(1501.2,1161) scale(0.958,1)">2500</text>
<text transform="translate(1761.0,1161) scale(0.958,1)">3000</text>
<text transform="translate(2014.6,1161) scale(0.958,1)">3500</text>
</g>
<g font-size="69" fill="#3a3a3a" text-anchor="end">
<text transform="translate(197,294.5) scale(0.958,1)">4</text>
<text transform="translate(197,600.8) scale(0.958,1)">3.5</text>
<text transform="translate(197,911.9) scale(0.958,1)">3</text>
</g>
<text x="1124.5" y="1255" font-size="78" fill="#3a3a3a" text-anchor="middle">Time (s)</text>
<text transform="translate(77.5,546.5) rotate(-90)" font-size="78" fill="#3a3a3a" text-anchor="middle">Voltage (V)</text>
</g>
<text x="1051" y="1460" font-size="76" fill="#000" text-anchor="middle">(<tspan font-weight="bold">a</tspan>)</text>
</svg></body></html>
